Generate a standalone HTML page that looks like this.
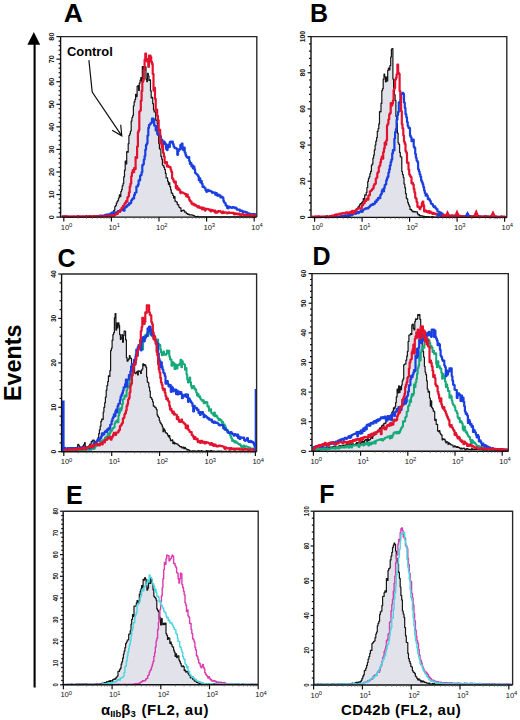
<!DOCTYPE html>
<html><head><meta charset="utf-8"><style>
html,body{margin:0;padding:0;background:#fff;width:520px;height:720px;overflow:hidden}
svg{display:block;font-family:"Liberation Sans", sans-serif}
.yl,.xl{fill:#111}
</style></head><body>
<svg width="520" height="720" viewBox="0 0 520 720">
<rect width="520" height="720" fill="#fff"/>
<path d="M62.0 216.8H62.7V216.8H63.5V216.8H64.2V216.8H65.0V216.8H65.7V216.8H66.5V216.8H67.2V216.8H67.9V216.8H68.7V216.8H69.4V216.8H70.2V216.8H70.9V216.8H71.7V216.8H72.4V216.8H73.2V216.8H73.9V216.8H74.6V216.8H75.4V216.8H76.1V216.8H76.9V216.8H77.6V216.8H78.4V216.8H79.1V216.8H79.8V216.8H80.6V216.8H81.3V216.8H82.1V216.8H82.8V216.8H83.6V216.8H84.3V216.8H85.1V216.8H85.8V216.8H86.5V216.8H87.3V216.8H88.0V216.8H88.8V216.8H89.5V216.8H90.3V216.8H91.0V216.8H91.7V216.8H92.5V216.8H93.2V216.8H94.0V216.8H94.7V216.8H95.5V216.8H96.2V216.8H97.0V216.8H97.7V216.8H98.4V216.8H99.2V216.8H99.9V216.8H100.7V216.8H101.4V216.8H102.2V216.8H102.9V216.6H103.6V216.5H104.4V216.7H105.1V216.4H105.9V216.6H106.6V216.3H107.4V215.7H108.1V215.6H108.9V215.5H109.6V214.9H110.3V214.8H111.1V214.7H111.8V214.1H112.6V213.2H113.3V210.9H114.1V210.1H114.8V206.5H115.5V205.6H116.3V203.2H117.0V201.6H117.8V200.3H118.5V198.0H119.3V194.9H120.0V196.6H120.8V191.6H121.5V189.7H122.2V185.9H123.0V183.6H123.7V176.8H124.5V170.2H125.2V161.0H126.0V164.0H126.7V151.7H127.4V152.2H128.2V143.7H128.9V135.5H129.7V133.8H130.4V131.0H131.2V121.1H131.9V117.5H132.7V115.5H133.4V105.8H134.1V101.9H134.9V99.4H135.6V94.3H136.4V96.6H137.1V86.4H137.9V85.5H138.6V90.4H139.3V83.0H140.1V80.1H140.8V77.7H141.6V81.4H142.3V66.5H143.1V68.9H143.8V66.5H144.6V69.6H145.3V66.9H146.0V79.1H146.8V81.6H147.5V73.4H148.3V76.0H149.0V80.5H149.8V79.8H150.5V90.9H151.2V98.0H152.0V97.4H152.7V103.7H153.5V109.9H154.2V111.9H155.0V111.9H155.7V120.1H156.5V120.5H157.2V123.6H157.9V133.4H158.7V143.3H159.4V148.8H160.2V149.2H160.9V156.4H161.7V159.2H162.4V165.0H163.1V165.7H163.9V167.4H164.6V169.5H165.4V173.4H166.1V177.8H166.9V177.9H167.6V181.3H168.4V184.3H169.1V182.8H169.8V186.7H170.6V189.8H171.3V192.9H172.1V193.4H172.8V195.5H173.6V198.1H174.3V196.5H175.0V201.2H175.8V201.6H176.5V202.2H177.3V204.7H178.0V204.7H178.8V207.0H179.5V207.7H180.3V207.9H181.0V211.3H181.7V210.6H182.5V210.3H183.2V210.1H184.0V210.9H184.7V212.2H185.5V212.0H186.2V213.3H186.9V213.7H187.7V214.4H188.4V214.2H189.2V214.9H189.9V214.9H190.7V214.9H191.4V214.9H192.2V215.2H192.9V215.3H193.6V215.6H194.4V216.2H195.1V216.6H195.9V216.6H196.6V216.6H197.4V216.3H198.1V216.8H198.8V216.8H199.6V216.8H200.3V216.8H201.1V216.8H201.8V216.8H202.6V216.8H203.3V216.8H204.1V216.8H204.8V216.8H205.5V216.8H206.3V216.8H207.0V216.8H207.8V216.8H208.5V216.8H209.3V216.8H210.0V216.8H210.7V216.8H211.5V216.8H212.2V216.8H213.0V216.8H213.7V216.8H214.5V216.8H215.2V216.8H216.0V216.8H216.7V216.8H217.4V216.8H218.2V216.8H218.9V216.8H219.7V216.8H220.4V216.8H221.2V216.8H221.9V216.8H222.6V216.8H223.4V216.8H224.1V216.8H224.9V216.8H225.6V216.8H226.4V216.8H227.1V216.8H227.9V216.8H228.6V216.8H229.3V216.8H230.1V216.8H230.8V216.8H231.6V216.8H232.3V216.8H233.1V216.8H233.8V216.8H234.5V216.8H235.3V216.8H236.0V216.8H236.8V216.8H237.5V216.8H238.3V216.8H239.0V216.8H239.8V216.8H240.5V216.8H241.2V216.8H242.0V216.8H242.7V216.8H243.5V216.8H244.2V216.8H245.0V216.8H245.7V216.8H246.4V216.8H247.2V216.8H247.9V216.8H248.7V216.8H249.4V216.8H250.2V216.8H250.9V216.8H251.7V216.8H252.4V216.8H253.1V216.8H253.9V216.8H254.6V216.8H255.4V216.8H256.1V217.1H62.0Z" fill="#e2e2eb" stroke="none"/>
<path d="M62.0 216.8H62.7V216.8H63.5V216.8H64.2V216.8H65.0V216.8H65.7V216.8H66.5V216.8H67.2V216.8H67.9V216.8H68.7V216.8H69.4V216.8H70.2V216.8H70.9V216.8H71.7V216.8H72.4V216.8H73.2V216.8H73.9V216.8H74.6V216.8H75.4V216.8H76.1V216.8H76.9V216.8H77.6V216.8H78.4V216.8H79.1V216.8H79.8V216.8H80.6V216.8H81.3V216.8H82.1V216.8H82.8V216.8H83.6V216.8H84.3V216.8H85.1V216.8H85.8V216.8H86.5V216.8H87.3V216.8H88.0V216.8H88.8V216.8H89.5V216.8H90.3V216.8H91.0V216.8H91.7V216.8H92.5V216.8H93.2V216.8H94.0V216.8H94.7V216.8H95.5V216.8H96.2V216.8H97.0V216.8H97.7V216.8H98.4V216.8H99.2V216.8H99.9V216.8H100.7V216.8H101.4V216.8H102.2V216.8H102.9V216.6H103.6V216.5H104.4V216.7H105.1V216.4H105.9V216.6H106.6V216.3H107.4V215.7H108.1V215.6H108.9V215.5H109.6V214.9H110.3V214.8H111.1V214.7H111.8V214.1H112.6V213.2H113.3V210.9H114.1V210.1H114.8V206.5H115.5V205.6H116.3V203.2H117.0V201.6H117.8V200.3H118.5V198.0H119.3V194.9H120.0V196.6H120.8V191.6H121.5V189.7H122.2V185.9H123.0V183.6H123.7V176.8H124.5V170.2H125.2V161.0H126.0V164.0H126.7V151.7H127.4V152.2H128.2V143.7H128.9V135.5H129.7V133.8H130.4V131.0H131.2V121.1H131.9V117.5H132.7V115.5H133.4V105.8H134.1V101.9H134.9V99.4H135.6V94.3H136.4V96.6H137.1V86.4H137.9V85.5H138.6V90.4H139.3V83.0H140.1V80.1H140.8V77.7H141.6V81.4H142.3V66.5H143.1V68.9H143.8V66.5H144.6V69.6H145.3V66.9H146.0V79.1H146.8V81.6H147.5V73.4H148.3V76.0H149.0V80.5H149.8V79.8H150.5V90.9H151.2V98.0H152.0V97.4H152.7V103.7H153.5V109.9H154.2V111.9H155.0V111.9H155.7V120.1H156.5V120.5H157.2V123.6H157.9V133.4H158.7V143.3H159.4V148.8H160.2V149.2H160.9V156.4H161.7V159.2H162.4V165.0H163.1V165.7H163.9V167.4H164.6V169.5H165.4V173.4H166.1V177.8H166.9V177.9H167.6V181.3H168.4V184.3H169.1V182.8H169.8V186.7H170.6V189.8H171.3V192.9H172.1V193.4H172.8V195.5H173.6V198.1H174.3V196.5H175.0V201.2H175.8V201.6H176.5V202.2H177.3V204.7H178.0V204.7H178.8V207.0H179.5V207.7H180.3V207.9H181.0V211.3H181.7V210.6H182.5V210.3H183.2V210.1H184.0V210.9H184.7V212.2H185.5V212.0H186.2V213.3H186.9V213.7H187.7V214.4H188.4V214.2H189.2V214.9H189.9V214.9H190.7V214.9H191.4V214.9H192.2V215.2H192.9V215.3H193.6V215.6H194.4V216.2H195.1V216.6H195.9V216.6H196.6V216.6H197.4V216.3H198.1V216.8H198.8V216.8H199.6V216.8H200.3V216.8H201.1V216.8H201.8V216.8H202.6V216.8H203.3V216.8H204.1V216.8H204.8V216.8H205.5V216.8H206.3V216.8H207.0V216.8H207.8V216.8H208.5V216.8H209.3V216.8H210.0V216.8H210.7V216.8H211.5V216.8H212.2V216.8H213.0V216.8H213.7V216.8H214.5V216.8H215.2V216.8H216.0V216.8H216.7V216.8H217.4V216.8H218.2V216.8H218.9V216.8H219.7V216.8H220.4V216.8H221.2V216.8H221.9V216.8H222.6V216.8H223.4V216.8H224.1V216.8H224.9V216.8H225.6V216.8H226.4V216.8H227.1V216.8H227.9V216.8H228.6V216.8H229.3V216.8H230.1V216.8H230.8V216.8H231.6V216.8H232.3V216.8H233.1V216.8H233.8V216.8H234.5V216.8H235.3V216.8H236.0V216.8H236.8V216.8H237.5V216.8H238.3V216.8H239.0V216.8H239.8V216.8H240.5V216.8H241.2V216.8H242.0V216.8H242.7V216.8H243.5V216.8H244.2V216.8H245.0V216.8H245.7V216.8H246.4V216.8H247.2V216.8H247.9V216.8H248.7V216.8H249.4V216.8H250.2V216.8H250.9V216.8H251.7V216.8H252.4V216.8H253.1V216.8H253.9V216.8H254.6V216.8H255.4V216.8H256.1" fill="none" stroke="#161616" stroke-width="1.2" stroke-linejoin="round"/>
<path d="M62.0 216.8H62.7V216.6H63.5V216.8H64.2V216.8H65.0V216.8H65.7V216.8H66.5V216.8H67.2V216.8H67.9V216.8H68.7V216.8H69.4V216.8H70.2V216.8H70.9V216.8H71.7V216.8H72.4V216.8H73.2V216.8H73.9V216.8H74.6V216.8H75.4V216.8H76.1V216.8H76.9V216.8H77.6V216.8H78.4V216.8H79.1V216.8H79.8V216.7H80.6V216.8H81.3V216.8H82.1V216.6H82.8V216.6H83.6V216.8H84.3V216.8H85.1V216.8H85.8V216.6H86.5V216.7H87.3V216.8H88.0V216.6H88.8V216.8H89.5V216.8H90.3V216.7H91.0V216.8H91.7V216.8H92.5V216.6H93.2V216.7H94.0V216.8H94.7V216.8H95.5V216.7H96.2V216.6H97.0V216.4H97.7V216.1H98.4V216.0H99.2V216.4H99.9V215.6H100.7V215.6H101.4V216.2H102.2V215.8H102.9V215.5H103.6V215.6H104.4V215.4H105.1V214.9H105.9V215.5H106.6V214.6H107.4V214.8H108.1V214.4H108.9V214.5H109.6V214.1H110.3V213.6H111.1V213.1H111.8V212.5H112.6V213.0H113.3V214.2H114.1V212.4H114.8V212.6H115.5V212.5H116.3V212.3H117.0V212.7H117.8V211.2H118.5V211.0H119.3V211.7H120.0V210.4H120.8V210.4H121.5V209.7H122.2V209.9H123.0V208.5H123.7V210.7H124.5V207.9H125.2V207.1H126.0V207.1H126.7V205.9H127.4V205.2H128.2V205.2H128.9V203.3H129.7V203.7H130.4V202.9H131.2V200.6H131.9V199.4H132.7V198.4H133.4V198.5H134.1V195.1H134.9V192.8H135.6V192.5H136.4V186.6H137.1V186.3H137.9V184.7H138.6V180.4H139.3V180.4H140.1V175.8H140.8V174.9H141.6V172.3H142.3V165.2H143.1V164.3H143.8V159.5H144.6V156.0H145.3V149.8H146.0V144.9H146.8V143.4H147.5V135.6H148.3V127.9H149.0V124.8H149.8V124.5H150.5V123.0H151.2V122.7H152.0V118.5H152.7V118.5H153.5V119.7H154.2V125.6H155.0V125.6H155.7V130.5H156.5V126.1H157.2V134.0H157.9V135.0H158.7V134.3H159.4V135.1H160.2V136.2H160.9V142.2H161.7V139.9H162.4V145.9H163.1V144.1H163.9V141.5H164.6V143.2H165.4V144.1H166.1V149.0H166.9V150.1H167.6V145.3H168.4V144.5H169.1V147.1H169.8V141.9H170.6V141.5H171.3V142.5H172.1V141.5H172.8V144.0H173.6V146.4H174.3V147.7H175.0V148.2H175.8V148.1H176.5V149.1H177.3V154.8H178.0V151.3H178.8V149.4H179.5V149.5H180.3V145.2H181.0V145.6H181.7V143.5H182.5V149.2H183.2V150.2H184.0V147.7H184.7V152.6H185.5V154.9H186.2V156.5H186.9V157.4H187.7V157.8H188.4V157.1H189.2V161.0H189.9V164.0H190.7V163.2H191.4V166.5H192.2V165.3H192.9V168.4H193.6V166.7H194.4V169.4H195.1V173.0H195.9V173.6H196.6V174.5H197.4V175.0H198.1V176.4H198.8V180.2H199.6V178.4H200.3V182.3H201.1V181.0H201.8V183.8H202.6V186.9H203.3V186.6H204.1V187.5H204.8V188.2H205.5V190.3H206.3V191.8H207.0V190.0H207.8V189.8H208.5V191.1H209.3V190.8H210.0V190.9H210.7V191.2H211.5V191.9H212.2V192.9H213.0V192.3H213.7V192.5H214.5V192.5H215.2V194.7H216.0V193.0H216.7V195.2H217.4V195.8H218.2V194.7H218.9V195.4H219.7V195.4H220.4V197.5H221.2V196.5H221.9V196.9H222.6V197.9H223.4V201.0H224.1V202.6H224.9V203.0H225.6V205.4H226.4V205.5H227.1V208.0H227.9V208.3H228.6V206.7H229.3V206.8H230.1V207.4H230.8V207.5H231.6V208.0H232.3V207.0H233.1V207.1H233.8V207.6H234.5V208.1H235.3V207.5H236.0V208.3H236.8V209.7H237.5V209.6H238.3V209.7H239.0V209.6H239.8V210.9H240.5V210.5H241.2V210.7H242.0V211.1H242.7V212.6H243.5V211.5H244.2V211.7H245.0V211.8H245.7V212.7H246.4V212.3H247.2V213.0H247.9V213.6H248.7V213.3H249.4V214.1H250.2V214.2H250.9V214.2H251.7V214.7H252.4V214.2H253.1V214.8H253.9V214.1H254.6V215.3H255.4V214.4H256.1" fill="none" stroke="#1a3fe0" stroke-width="2.2" stroke-linejoin="round"/>
<path d="M62.0 216.7H62.7V216.4H63.5V216.6H64.2V216.6H65.0V216.2H65.7V216.6H66.5V216.4H67.2V216.4H67.9V216.6H68.7V216.7H69.4V216.5H70.2V216.8H70.9V216.5H71.7V216.5H72.4V216.7H73.2V216.4H73.9V216.5H74.6V216.7H75.4V216.5H76.1V216.8H76.9V216.4H77.6V216.1H78.4V216.4H79.1V216.8H79.8V216.6H80.6V216.5H81.3V216.7H82.1V216.3H82.8V216.7H83.6V216.6H84.3V216.8H85.1V216.4H85.8V216.0H86.5V216.5H87.3V216.6H88.0V216.3H88.8V216.6H89.5V216.1H90.3V216.6H91.0V216.3H91.7V216.6H92.5V216.6H93.2V216.1H94.0V216.5H94.7V216.0H95.5V216.4H96.2V216.2H97.0V216.4H97.7V216.5H98.4V216.5H99.2V216.5H99.9V216.2H100.7V216.3H101.4V216.6H102.2V216.4H102.9V216.5H103.6V216.3H104.4V215.9H105.1V216.2H105.9V216.3H106.6V216.8H107.4V216.1H108.1V216.0H108.9V215.6H109.6V216.4H110.3V215.8H111.1V215.6H111.8V215.2H112.6V216.0H113.3V215.9H114.1V215.3H114.8V215.1H115.5V214.2H116.3V213.8H117.0V213.8H117.8V212.2H118.5V212.0H119.3V212.0H120.0V210.3H120.8V210.1H121.5V208.1H122.2V207.5H123.0V205.8H123.7V205.7H124.5V203.6H125.2V202.9H126.0V201.0H126.7V201.6H127.4V197.3H128.2V196.5H128.9V192.4H129.7V186.7H130.4V183.8H131.2V176.3H131.9V172.7H132.7V170.2H133.4V172.2H134.1V168.1H134.9V169.2H135.6V157.1H136.4V158.0H137.1V146.5H137.9V132.2H138.6V130.3H139.3V111.6H140.1V110.6H140.8V100.7H141.6V91.1H142.3V81.9H143.1V80.0H143.8V70.2H144.6V59.6H145.3V53.5H146.0V60.6H146.8V59.0H147.5V61.9H148.3V66.8H149.0V55.5H149.8V55.5H150.5V57.0H151.2V61.9H152.0V63.9H152.7V73.9H153.5V90.6H154.2V87.8H155.0V98.9H155.7V109.8H156.5V109.6H157.2V115.9H157.9V120.4H158.7V130.8H159.4V129.8H160.2V143.3H160.9V141.5H161.7V147.7H162.4V145.7H163.1V153.0H163.9V156.4H164.6V163.1H165.4V163.0H166.1V162.2H166.9V166.4H167.6V165.5H168.4V166.9H169.1V167.0H169.8V167.2H170.6V169.6H171.3V171.9H172.1V178.2H172.8V179.4H173.6V181.5H174.3V182.6H175.0V181.5H175.8V188.1H176.5V186.1H177.3V189.6H178.0V188.4H178.8V189.3H179.5V190.4H180.3V193.1H181.0V192.5H181.7V192.4H182.5V192.5H183.2V193.2H184.0V193.3H184.7V194.1H185.5V194.2H186.2V196.4H186.9V194.5H187.7V196.9H188.4V197.4H189.2V199.8H189.9V201.2H190.7V201.3H191.4V203.6H192.2V204.3H192.9V203.5H193.6V204.1H194.4V205.5H195.1V204.8H195.9V205.8H196.6V206.0H197.4V207.3H198.1V206.2H198.8V207.4H199.6V208.0H200.3V207.3H201.1V208.2H201.8V209.3H202.6V207.5H203.3V209.1H204.1V208.3H204.8V210.6H205.5V209.4H206.3V208.8H207.0V209.0H207.8V209.1H208.5V209.3H209.3V210.3H210.0V209.7H210.7V211.3H211.5V210.2H212.2V210.2H213.0V210.4H213.7V211.3H214.5V210.7H215.2V212.7H216.0V211.7H216.7V212.7H217.4V211.9H218.2V211.1H218.9V211.5H219.7V211.2H220.4V211.8H221.2V212.6H221.9V213.2H222.6V211.6H223.4V212.9H224.1V212.6H224.9V212.3H225.6V212.6H226.4V212.7H227.1V213.5H227.9V213.0H228.6V212.3H229.3V212.5H230.1V213.0H230.8V212.8H231.6V212.9H232.3V212.9H233.1V212.9H233.8V214.2H234.5V214.3H235.3V213.4H236.0V213.9H236.8V213.7H237.5V214.4H238.3V213.8H239.0V213.7H239.8V214.8H240.5V215.0H241.2V214.6H242.0V214.1H242.7V214.4H243.5V215.3H244.2V215.2H245.0V215.3H245.7V215.1H246.4V214.5H247.2V215.7H247.9V215.4H248.7V214.8H249.4V215.0H250.2V215.5H250.9V215.0H251.7V215.3H252.4V215.2H253.1V216.5H253.9V216.0H254.6V215.7H255.4V216.0H256.1" fill="none" stroke="#e3122f" stroke-width="2.2" stroke-linejoin="round"/>
<path d="M312.0 217.1H312.7V217.1H313.5V217.1H314.2V217.1H315.0V217.0H315.7V217.1H316.5V217.1H317.2V217.1H317.9V217.1H318.7V217.1H319.4V217.1H320.2V217.1H320.9V217.1H321.6V217.1H322.4V217.1H323.1V217.1H323.9V217.1H324.6V217.1H325.4V217.0H326.1V216.7H326.8V217.1H327.6V217.1H328.3V216.9H329.1V216.9H329.8V216.9H330.6V216.9H331.3V217.1H332.0V216.8H332.8V216.9H333.5V217.1H334.3V216.9H335.0V217.0H335.8V217.1H336.5V217.1H337.2V217.1H338.0V217.1H338.7V217.1H339.5V217.0H340.2V216.6H340.9V216.7H341.7V216.9H342.4V216.7H343.2V216.3H343.9V216.7H344.7V216.1H345.4V216.7H346.1V215.9H346.9V216.6H347.6V216.6H348.4V216.2H349.1V215.7H349.9V215.8H350.6V214.4H351.3V213.5H352.1V212.4H352.8V211.8H353.6V211.1H354.3V210.6H355.0V212.1H355.8V209.4H356.5V208.9H357.3V208.3H358.0V206.9H358.8V206.3H359.5V204.8H360.2V203.7H361.0V203.8H361.7V202.4H362.5V201.7H363.2V198.7H364.0V200.0H364.7V194.9H365.4V195.2H366.2V192.5H366.9V187.5H367.7V181.5H368.4V178.7H369.1V176.8H369.9V173.7H370.6V171.4H371.4V165.2H372.1V164.0H372.9V158.2H373.6V155.2H374.3V149.9H375.1V145.0H375.8V141.2H376.6V137.6H377.3V131.3H378.1V128.6H378.8V123.9H379.5V111.6H380.3V111.8H381.0V103.4H381.8V90.6H382.5V88.7H383.2V79.2H384.0V74.2H384.7V76.8H385.5V81.8H386.2V77.2H387.0V80.9H387.7V70.3H388.4V68.1H389.2V69.9H389.9V65.7H390.7V57.0H391.4V49.0H392.2V48.5H392.9V79.0H393.6V88.1H394.4V94.7H395.1V100.4H395.9V116.5H396.6V123.4H397.4V133.2H398.1V142.8H398.8V144.3H399.6V152.4H400.3V156.8H401.1V156.9H401.8V171.5H402.5V174.6H403.3V177.5H404.0V184.0H404.8V187.7H405.5V193.6H406.3V198.2H407.0V198.9H407.7V202.7H408.5V204.7H409.2V206.3H410.0V209.6H410.7V209.3H411.5V210.6H412.2V211.2H412.9V211.9H413.7V211.4H414.4V212.0H415.2V211.7H415.9V211.9H416.6V211.8H417.4V213.6H418.1V214.8H418.9V214.6H419.6V215.9H420.4V215.5H421.1V215.8H421.8V215.9H422.6V216.2H423.3V216.6H424.1V216.4H424.8V216.5H425.6V216.9H426.3V216.7H427.0V216.8H427.8V216.7H428.5V216.8H429.3V216.9H430.0V217.0H430.8V217.0H431.5V216.7H432.2V216.6H433.0V217.0H433.7V217.0H434.5V217.0H435.2V217.1H435.9V217.1H436.7V217.1H437.4V216.9H438.2V217.1H438.9V217.0H439.7V217.1H440.4V217.1H441.1V217.0H441.9V217.1H442.6V217.1H443.4V217.1H444.1V216.7H444.9V217.1H445.6V217.0H446.3V217.1H447.1V217.1H447.8V217.1H448.6V217.0H449.3V217.1H450.0V216.9H450.8V217.1H451.5V217.0H452.3V217.1H453.0V217.1H453.8V216.8H454.5V216.8H455.2V217.0H456.0V217.1H456.7V217.1H457.5V216.7H458.2V217.1H459.0V217.1H459.7V216.9H460.4V217.1H461.2V217.1H461.9V217.0H462.7V216.9H463.4V217.1H464.1V217.1H464.9V217.0H465.6V217.0H466.4V217.0H467.1V217.1H467.9V217.1H468.6V217.1H469.3V217.1H470.1V217.0H470.8V217.1H471.6V217.0H472.3V217.1H473.1V217.1H473.8V217.0H474.5V217.1H475.3V217.1H476.0V217.1H476.8V216.8H477.5V217.1H478.2V217.1H479.0V217.1H479.7V217.1H480.5V217.1H481.2V217.1H482.0V217.1H482.7V217.1H483.4V217.0H484.2V216.9H484.9V217.1H485.7V217.1H486.4V217.1H487.2V217.1H487.9V217.1H488.6V217.1H489.4V217.0H490.1V217.1H490.9V217.1H491.6V217.1H492.4V217.1H493.1V217.1H493.8V217.1H494.6V217.1H495.3V217.1H496.1V217.1H496.8V217.0H497.5V217.1H498.3V217.1H499.0V217.1H499.8V217.1H500.5V217.1H501.3V217.1H502.0V217.1H502.7V217.1H503.5V217.0H504.2V217.1H505.0V217.1H505.7V217.0H506.5V217.4H312.0Z" fill="#e2e2eb" stroke="none"/>
<path d="M312.0 217.1H312.7V217.1H313.5V217.1H314.2V217.1H315.0V217.0H315.7V217.1H316.5V217.1H317.2V217.1H317.9V217.1H318.7V217.1H319.4V217.1H320.2V217.1H320.9V217.1H321.6V217.1H322.4V217.1H323.1V217.1H323.9V217.1H324.6V217.1H325.4V217.0H326.1V216.7H326.8V217.1H327.6V217.1H328.3V216.9H329.1V216.9H329.8V216.9H330.6V216.9H331.3V217.1H332.0V216.8H332.8V216.9H333.5V217.1H334.3V216.9H335.0V217.0H335.8V217.1H336.5V217.1H337.2V217.1H338.0V217.1H338.7V217.1H339.5V217.0H340.2V216.6H340.9V216.7H341.7V216.9H342.4V216.7H343.2V216.3H343.9V216.7H344.7V216.1H345.4V216.7H346.1V215.9H346.9V216.6H347.6V216.6H348.4V216.2H349.1V215.7H349.9V215.8H350.6V214.4H351.3V213.5H352.1V212.4H352.8V211.8H353.6V211.1H354.3V210.6H355.0V212.1H355.8V209.4H356.5V208.9H357.3V208.3H358.0V206.9H358.8V206.3H359.5V204.8H360.2V203.7H361.0V203.8H361.7V202.4H362.5V201.7H363.2V198.7H364.0V200.0H364.7V194.9H365.4V195.2H366.2V192.5H366.9V187.5H367.7V181.5H368.4V178.7H369.1V176.8H369.9V173.7H370.6V171.4H371.4V165.2H372.1V164.0H372.9V158.2H373.6V155.2H374.3V149.9H375.1V145.0H375.8V141.2H376.6V137.6H377.3V131.3H378.1V128.6H378.8V123.9H379.5V111.6H380.3V111.8H381.0V103.4H381.8V90.6H382.5V88.7H383.2V79.2H384.0V74.2H384.7V76.8H385.5V81.8H386.2V77.2H387.0V80.9H387.7V70.3H388.4V68.1H389.2V69.9H389.9V65.7H390.7V57.0H391.4V49.0H392.2V48.5H392.9V79.0H393.6V88.1H394.4V94.7H395.1V100.4H395.9V116.5H396.6V123.4H397.4V133.2H398.1V142.8H398.8V144.3H399.6V152.4H400.3V156.8H401.1V156.9H401.8V171.5H402.5V174.6H403.3V177.5H404.0V184.0H404.8V187.7H405.5V193.6H406.3V198.2H407.0V198.9H407.7V202.7H408.5V204.7H409.2V206.3H410.0V209.6H410.7V209.3H411.5V210.6H412.2V211.2H412.9V211.9H413.7V211.4H414.4V212.0H415.2V211.7H415.9V211.9H416.6V211.8H417.4V213.6H418.1V214.8H418.9V214.6H419.6V215.9H420.4V215.5H421.1V215.8H421.8V215.9H422.6V216.2H423.3V216.6H424.1V216.4H424.8V216.5H425.6V216.9H426.3V216.7H427.0V216.8H427.8V216.7H428.5V216.8H429.3V216.9H430.0V217.0H430.8V217.0H431.5V216.7H432.2V216.6H433.0V217.0H433.7V217.0H434.5V217.0H435.2V217.1H435.9V217.1H436.7V217.1H437.4V216.9H438.2V217.1H438.9V217.0H439.7V217.1H440.4V217.1H441.1V217.0H441.9V217.1H442.6V217.1H443.4V217.1H444.1V216.7H444.9V217.1H445.6V217.0H446.3V217.1H447.1V217.1H447.8V217.1H448.6V217.0H449.3V217.1H450.0V216.9H450.8V217.1H451.5V217.0H452.3V217.1H453.0V217.1H453.8V216.8H454.5V216.8H455.2V217.0H456.0V217.1H456.7V217.1H457.5V216.7H458.2V217.1H459.0V217.1H459.7V216.9H460.4V217.1H461.2V217.1H461.9V217.0H462.7V216.9H463.4V217.1H464.1V217.1H464.9V217.0H465.6V217.0H466.4V217.0H467.1V217.1H467.9V217.1H468.6V217.1H469.3V217.1H470.1V217.0H470.8V217.1H471.6V217.0H472.3V217.1H473.1V217.1H473.8V217.0H474.5V217.1H475.3V217.1H476.0V217.1H476.8V216.8H477.5V217.1H478.2V217.1H479.0V217.1H479.7V217.1H480.5V217.1H481.2V217.1H482.0V217.1H482.7V217.1H483.4V217.0H484.2V216.9H484.9V217.1H485.7V217.1H486.4V217.1H487.2V217.1H487.9V217.1H488.6V217.1H489.4V217.0H490.1V217.1H490.9V217.1H491.6V217.1H492.4V217.1H493.1V217.1H493.8V217.1H494.6V217.1H495.3V217.1H496.1V217.1H496.8V217.0H497.5V217.1H498.3V217.1H499.0V217.1H499.8V217.1H500.5V217.1H501.3V217.1H502.0V217.1H502.7V217.1H503.5V217.0H504.2V217.1H505.0V217.1H505.7V217.0H506.5" fill="none" stroke="#161616" stroke-width="1.2" stroke-linejoin="round"/>
<path d="M312.0 217.0H312.7V217.0H313.5V217.1H314.2V217.0H315.0V217.1H315.7V217.0H316.5V217.1H317.2V217.0H317.9V217.1H318.7V217.1H319.4V216.9H320.2V217.1H320.9V217.1H321.6V217.0H322.4V217.0H323.1V216.8H323.9V216.9H324.6V217.1H325.4V216.7H326.1V217.1H326.8V217.1H327.6V217.1H328.3V217.0H329.1V216.9H329.8V216.8H330.6V217.1H331.3V216.8H332.0V216.9H332.8V217.1H333.5V217.1H334.3V216.8H335.0V217.0H335.8V216.7H336.5V216.8H337.2V216.5H338.0V216.9H338.7V216.8H339.5V216.7H340.2V216.3H340.9V216.9H341.7V215.8H342.4V216.4H343.2V216.1H343.9V216.1H344.7V216.2H345.4V215.4H346.1V215.8H346.9V216.1H347.6V215.2H348.4V215.7H349.1V214.9H349.9V214.8H350.6V215.1H351.3V215.3H352.1V214.8H352.8V213.6H353.6V213.3H354.3V213.1H355.0V213.9H355.8V212.9H356.5V212.5H357.3V212.2H358.0V213.1H358.8V212.6H359.5V211.5H360.2V211.5H361.0V210.7H361.7V212.0H362.5V210.4H363.2V209.6H364.0V209.3H364.7V208.9H365.4V208.3H366.2V208.7H366.9V208.0H367.7V208.4H368.4V207.3H369.1V206.8H369.9V205.9H370.6V205.2H371.4V204.6H372.1V205.0H372.9V203.9H373.6V204.2H374.3V203.5H375.1V201.5H375.8V201.9H376.6V199.8H377.3V200.0H378.1V197.9H378.8V198.0H379.5V198.2H380.3V195.1H381.0V194.0H381.8V191.1H382.5V189.4H383.2V191.5H384.0V188.0H384.7V185.1H385.5V184.3H386.2V180.3H387.0V178.0H387.7V176.7H388.4V172.5H389.2V169.4H389.9V165.6H390.7V162.1H391.4V159.6H392.2V153.4H392.9V150.1H393.6V150.4H394.4V138.6H395.1V132.2H395.9V129.1H396.6V119.8H397.4V115.1H398.1V111.9H398.8V102.3H399.6V102.6H400.3V98.9H401.1V93.9H401.8V93.8H402.5V92.8H403.3V94.2H404.0V102.6H404.8V108.0H405.5V114.2H406.3V117.3H407.0V122.1H407.7V126.0H408.5V128.0H409.2V128.2H410.0V135.7H410.7V137.3H411.5V141.2H412.2V139.5H412.9V139.5H413.7V146.7H414.4V147.9H415.2V154.0H415.9V157.8H416.6V160.6H417.4V162.1H418.1V169.3H418.9V171.6H419.6V174.3H420.4V176.8H421.1V180.4H421.8V182.2H422.6V184.2H423.3V187.1H424.1V190.6H424.8V193.1H425.6V195.7H426.3V194.3H427.0V195.8H427.8V199.1H428.5V198.5H429.3V199.9H430.0V201.1H430.8V203.6H431.5V203.8H432.2V204.4H433.0V206.1H433.7V207.1H434.5V206.3H435.2V207.8H435.9V208.7H436.7V209.2H437.4V211.4H438.2V211.5H438.9V211.8H439.7V213.1H440.4V212.7H441.1V214.3H441.9V213.6H442.6V214.3H443.4V215.5H444.1V215.7H444.9V215.7H445.6V216.2H446.3V215.4H447.1V215.4H447.8V215.4H448.6V215.4H449.3V215.5H450.0V216.1H450.8V215.5H451.5V215.9H452.3V215.7H453.0V215.7H453.8V215.7H454.5V216.8H455.2V216.3H456.0V215.7H456.7V216.0H457.5V217.0H458.2V216.0H459.0V216.7H459.7V216.4H460.4V216.4H461.2V216.2H461.9V216.8H462.7V216.5H463.4V216.3H464.1V216.5H464.9V216.5H465.6V216.7H466.4V216.2H467.1V216.6H467.9V217.0H468.6V216.4H469.3V216.7H470.1V216.6H470.8V216.4H471.6V216.4H472.3V217.1H473.1V216.5H473.8V216.3H474.5V216.6H475.3V216.9H476.0V216.8H476.8V216.8H477.5V216.8H478.2V216.5H479.0V216.6H479.7V216.4H480.5V216.7H481.2V216.7H482.0V216.8H482.7V216.9H483.4V216.7H484.2V216.8H484.9V216.8H485.7V216.6H486.4V217.0H487.2V216.8H487.9V216.7H488.6V216.9H489.4V217.0H490.1V216.7H490.9V217.1H491.6V217.0H492.4V216.7H493.1V217.0H493.8V216.5H494.6V216.9H495.3V217.1H496.1V216.5H496.8V217.0H497.5V217.1H498.3V216.8H499.0V216.9H499.8V217.1H500.5V216.9H501.3V217.0H502.0V217.0H502.7V217.0H503.5V217.0H504.2V216.9H505.0V217.0H505.7V217.1H506.5" fill="none" stroke="#1a3fe0" stroke-width="2.2" stroke-linejoin="round"/>
<path d="M312.0 216.6H312.7V217.1H313.5V216.8H314.2V216.7H315.0V216.4H315.7V217.0H316.5V217.0H317.2V216.4H317.9V216.9H318.7V216.3H319.4V216.8H320.2V216.9H320.9V216.5H321.6V216.6H322.4V216.5H323.1V216.6H323.9V216.7H324.6V216.8H325.4V217.1H326.1V216.5H326.8V216.2H327.6V216.5H328.3V216.5H329.1V216.7H329.8V216.0H330.6V216.4H331.3V216.4H332.0V215.6H332.8V215.7H333.5V215.6H334.3V215.0H335.0V214.7H335.8V215.4H336.5V214.4H337.2V214.3H338.0V214.6H338.7V214.1H339.5V213.5H340.2V214.4H340.9V213.6H341.7V213.3H342.4V213.0H343.2V213.6H343.9V213.4H344.7V213.7H345.4V212.5H346.1V212.4H346.9V212.3H347.6V213.3H348.4V213.0H349.1V212.3H349.9V212.9H350.6V211.8H351.3V213.5H352.1V210.8H352.8V211.1H353.6V212.9H354.3V210.9H355.0V211.2H355.8V210.7H356.5V209.3H357.3V208.9H358.0V208.3H358.8V208.0H359.5V208.5H360.2V208.7H361.0V208.4H361.7V205.7H362.5V204.9H363.2V203.6H364.0V203.2H364.7V200.4H365.4V201.0H366.2V200.0H366.9V198.5H367.7V199.7H368.4V195.5H369.1V195.2H369.9V191.3H370.6V190.9H371.4V190.2H372.1V189.1H372.9V188.4H373.6V185.8H374.3V184.2H375.1V183.8H375.8V178.5H376.6V177.6H377.3V173.0H378.1V171.9H378.8V167.0H379.5V165.5H380.3V162.4H381.0V159.0H381.8V156.6H382.5V158.7H383.2V152.0H384.0V148.3H384.7V142.7H385.5V144.7H386.2V140.5H387.0V125.4H387.7V123.8H388.4V119.6H389.2V114.4H389.9V113.2H390.7V103.2H391.4V105.6H392.2V103.8H392.9V100.6H393.6V90.1H394.4V88.1H395.1V79.7H395.9V77.7H396.6V74.3H397.4V64.5H398.1V72.7H398.8V73.9H399.6V91.1H400.3V97.3H401.1V111.2H401.8V124.3H402.5V128.4H403.3V135.5H404.0V141.8H404.8V143.9H405.5V151.0H406.3V152.8H407.0V162.8H407.7V162.7H408.5V169.7H409.2V174.6H410.0V176.1H410.7V177.1H411.5V183.3H412.2V182.8H412.9V184.6H413.7V188.9H414.4V192.3H415.2V197.7H415.9V198.8H416.6V202.1H417.4V206.8H418.1V206.6H418.9V207.4H419.6V209.1H420.4V207.2H421.1V206.5H421.8V203.1H422.6V201.5H423.3V205.3H424.1V211.5H424.8V210.3H425.6V210.5H426.3V211.8H427.0V211.3H427.8V212.5H428.5V211.1H429.3V212.8H430.0V211.7H430.8V212.4H431.5V213.2H432.2V213.8H433.0V212.8H433.7V213.8H434.5V213.5H435.2V213.6H435.9V214.5H436.7V214.5H437.4V214.0H438.2V214.5H438.9V214.3H439.7V215.1H440.4V215.7H441.1V215.9H441.9V215.5H442.6V215.6H443.4V215.2H444.1V215.8H444.9V215.8H445.6V215.8H446.3V216.0H447.1V216.4H447.8V215.5H448.6V217.1H449.3V216.2H450.0V216.2H450.8V216.1H451.5V215.6H452.3V216.0H453.0V216.0H453.8V216.8H454.5V216.3H455.2V216.3H456.0V216.1H456.7V216.3H457.5V216.2H458.2V216.3H459.0V215.7H459.7V215.9H460.4V216.5H461.2V216.5H461.9V216.4H462.7V216.8H463.4V216.1H464.1V216.7H464.9V216.4H465.6V216.7H466.4V216.2H467.1V216.4H467.9V216.0H468.6V216.7H469.3V216.3H470.1V216.2H470.8V216.6H471.6V216.4H472.3V216.3H473.1V216.7H473.8V216.5H474.5V216.8H475.3V216.1H476.0V216.3H476.8V216.7H477.5V216.6H478.2V216.1H479.0V216.8H479.7V217.0H480.5V216.5H481.2V216.5H482.0V216.7H482.7V216.9H483.4V216.5H484.2V216.4H484.9V216.2H485.7V216.8H486.4V216.9H487.2V216.4H487.9V216.9H488.6V217.1H489.4V216.8H490.1V216.3H490.9V216.7H491.6V216.9H492.4V216.9H493.1V217.0H493.8V216.8H494.6V217.1H495.3V216.5H496.1V217.1H496.8V217.1H497.5V216.8H498.3V217.0H499.0V217.0H499.8V217.0H500.5V216.9H501.3V216.4H502.0V217.0H502.7V216.9H503.5V216.6H504.2V217.0H505.0V217.0H505.7V217.1H506.5" fill="none" stroke="#e3122f" stroke-width="2.2" stroke-linejoin="round"/>
<path d="M445.5 216.6L447.5 212.3L449.5 216.6M455 216.6L457 211.8L459 216.6M474 216.6L476.2 211.5L478.4 216.6M491 216.6L493 212.5L495 216.6" fill="none" stroke="#e3122f" stroke-width="2"/>
<path d="M465.5 216.6L467.5 213L469.5 216.6M437 216.6L439 213.5L441 216.6" fill="none" stroke="#1a3fe0" stroke-width="2"/>
<path d="M62.0 451.4H62.7V451.4H63.5V451.4H64.2V451.4H65.0V451.2H65.7V451.4H66.5V451.3H67.2V451.0H68.0V451.0H68.7V451.3H69.5V451.3H70.2V451.1H71.0V451.3H71.7V451.3H72.5V451.1H73.2V451.3H74.0V450.9H74.7V451.1H75.5V451.4H76.2V450.4H77.0V447.2H77.7V444.3H78.5V445.0H79.2V446.3H80.0V450.5H80.7V450.0H81.5V448.3H82.2V446.4H83.0V445.9H83.7V444.7H84.5V442.6H85.2V446.4H86.0V449.8H86.7V449.4H87.4V447.8H88.2V447.1H88.9V445.6H89.7V444.2H90.4V444.0H91.2V441.4H91.9V441.6H92.7V440.2H93.4V440.2H94.2V441.4H94.9V446.0H95.7V443.5H96.4V441.9H97.2V439.5H97.9V437.8H98.7V433.7H99.4V429.8H100.2V426.2H100.9V421.3H101.7V419.0H102.4V419.5H103.2V412.0H103.9V407.3H104.7V402.7H105.4V397.2H106.2V390.2H106.9V385.6H107.7V381.6H108.4V375.9H109.2V376.5H109.9V370.7H110.6V350.6H111.4V348.1H112.1V340.2H112.9V334.6H113.6V332.6H114.4V317.8H115.1V313.5H115.9V330.1H116.6V323.2H117.4V327.9H118.1V322.8H118.9V325.3H119.6V334.6H120.4V339.4H121.1V337.6H121.9V334.5H122.6V342.2H123.4V335.5H124.1V331.2H124.9V331.2H125.6V339.8H126.4V357.7H127.1V361.2H127.9V359.9H128.6V358.9H129.4V355.7H130.1V357.8H130.9V358.7H131.6V365.6H132.4V367.8H133.1V367.9H133.9V366.8H134.6V372.8H135.3V373.6H136.1V372.7H136.8V371.4H137.6V374.9H138.3V370.8H139.1V371.1H139.8V371.4H140.6V373.4H141.3V370.2H142.1V369.0H142.8V363.8H143.6V365.7H144.3V364.6H145.1V365.1H145.8V367.2H146.6V377.0H147.3V382.1H148.1V382.6H148.8V387.1H149.6V391.0H150.3V397.4H151.1V397.8H151.8V399.5H152.6V401.8H153.3V406.1H154.1V406.0H154.8V407.3H155.6V407.8H156.3V409.6H157.1V414.9H157.8V416.4H158.5V417.5H159.3V420.5H160.0V422.6H160.8V423.7H161.5V424.8H162.3V426.9H163.0V431.7H163.8V428.9H164.5V430.4H165.3V432.3H166.0V433.2H166.8V433.4H167.5V435.1H168.3V436.8H169.0V435.7H169.8V438.6H170.5V440.7H171.3V440.3H172.0V439.9H172.8V443.5H173.5V442.1H174.3V444.0H175.0V443.1H175.8V443.5H176.5V443.9H177.3V444.0H178.0V445.1H178.8V445.5H179.5V446.5H180.3V446.9H181.0V446.5H181.8V447.8H182.5V447.8H183.2V447.0H184.0V448.7H184.7V447.6H185.5V448.5H186.2V449.1H187.0V450.1H187.7V449.7H188.5V449.9H189.2V450.5H190.0V451.4H190.7V451.0H191.5V451.1H192.2V450.8H193.0V450.9H193.7V451.4H194.5V450.8H195.2V451.0H196.0V451.4H196.7V451.2H197.5V450.8H198.2V450.7H199.0V451.4H199.7V451.1H200.5V451.4H201.2V450.6H202.0V451.0H202.7V451.0H203.5V451.3H204.2V451.3H205.0V451.0H205.7V451.1H206.4V450.7H207.2V451.3H207.9V450.8H208.7V451.0H209.4V451.2H210.2V450.7H210.9V450.7H211.7V450.9H212.4V451.1H213.2V451.0H213.9V451.0H214.7V451.4H215.4V451.3H216.2V451.4H216.9V451.2H217.7V451.4H218.4V451.2H219.2V451.0H219.9V451.4H220.7V451.2H221.4V451.0H222.2V451.4H222.9V451.4H223.7V451.4H224.4V451.4H225.2V451.3H225.9V451.1H226.7V451.3H227.4V451.4H228.2V451.2H228.9V451.2H229.7V451.3H230.4V451.3H231.1V451.4H231.9V451.4H232.6V451.4H233.4V451.0H234.1V451.4H234.9V451.2H235.6V451.0H236.4V451.4H237.1V451.4H237.9V451.4H238.6V451.4H239.4V451.4H240.1V451.4H240.9V451.4H241.6V451.4H242.4V451.4H243.1V451.2H243.9V451.2H244.6V451.4H245.4V451.2H246.1V451.3H246.9V451.4H247.6V451.4H248.4V451.1H249.1V451.4H249.9V451.4H250.6V451.4H251.4V451.3H252.1V451.4H252.9V451.4H253.6V451.4H254.3V451.4H255.1V451.4H255.8V451.4H256.6V451.7H62.0Z" fill="#e2e2eb" stroke="none"/>
<path d="M62.0 451.4H62.7V451.4H63.5V451.4H64.2V451.4H65.0V451.2H65.7V451.4H66.5V451.3H67.2V451.0H68.0V451.0H68.7V451.3H69.5V451.3H70.2V451.1H71.0V451.3H71.7V451.3H72.5V451.1H73.2V451.3H74.0V450.9H74.7V451.1H75.5V451.4H76.2V450.4H77.0V447.2H77.7V444.3H78.5V445.0H79.2V446.3H80.0V450.5H80.7V450.0H81.5V448.3H82.2V446.4H83.0V445.9H83.7V444.7H84.5V442.6H85.2V446.4H86.0V449.8H86.7V449.4H87.4V447.8H88.2V447.1H88.9V445.6H89.7V444.2H90.4V444.0H91.2V441.4H91.9V441.6H92.7V440.2H93.4V440.2H94.2V441.4H94.9V446.0H95.7V443.5H96.4V441.9H97.2V439.5H97.9V437.8H98.7V433.7H99.4V429.8H100.2V426.2H100.9V421.3H101.7V419.0H102.4V419.5H103.2V412.0H103.9V407.3H104.7V402.7H105.4V397.2H106.2V390.2H106.9V385.6H107.7V381.6H108.4V375.9H109.2V376.5H109.9V370.7H110.6V350.6H111.4V348.1H112.1V340.2H112.9V334.6H113.6V332.6H114.4V317.8H115.1V313.5H115.9V330.1H116.6V323.2H117.4V327.9H118.1V322.8H118.9V325.3H119.6V334.6H120.4V339.4H121.1V337.6H121.9V334.5H122.6V342.2H123.4V335.5H124.1V331.2H124.9V331.2H125.6V339.8H126.4V357.7H127.1V361.2H127.9V359.9H128.6V358.9H129.4V355.7H130.1V357.8H130.9V358.7H131.6V365.6H132.4V367.8H133.1V367.9H133.9V366.8H134.6V372.8H135.3V373.6H136.1V372.7H136.8V371.4H137.6V374.9H138.3V370.8H139.1V371.1H139.8V371.4H140.6V373.4H141.3V370.2H142.1V369.0H142.8V363.8H143.6V365.7H144.3V364.6H145.1V365.1H145.8V367.2H146.6V377.0H147.3V382.1H148.1V382.6H148.8V387.1H149.6V391.0H150.3V397.4H151.1V397.8H151.8V399.5H152.6V401.8H153.3V406.1H154.1V406.0H154.8V407.3H155.6V407.8H156.3V409.6H157.1V414.9H157.8V416.4H158.5V417.5H159.3V420.5H160.0V422.6H160.8V423.7H161.5V424.8H162.3V426.9H163.0V431.7H163.8V428.9H164.5V430.4H165.3V432.3H166.0V433.2H166.8V433.4H167.5V435.1H168.3V436.8H169.0V435.7H169.8V438.6H170.5V440.7H171.3V440.3H172.0V439.9H172.8V443.5H173.5V442.1H174.3V444.0H175.0V443.1H175.8V443.5H176.5V443.9H177.3V444.0H178.0V445.1H178.8V445.5H179.5V446.5H180.3V446.9H181.0V446.5H181.8V447.8H182.5V447.8H183.2V447.0H184.0V448.7H184.7V447.6H185.5V448.5H186.2V449.1H187.0V450.1H187.7V449.7H188.5V449.9H189.2V450.5H190.0V451.4H190.7V451.0H191.5V451.1H192.2V450.8H193.0V450.9H193.7V451.4H194.5V450.8H195.2V451.0H196.0V451.4H196.7V451.2H197.5V450.8H198.2V450.7H199.0V451.4H199.7V451.1H200.5V451.4H201.2V450.6H202.0V451.0H202.7V451.0H203.5V451.3H204.2V451.3H205.0V451.0H205.7V451.1H206.4V450.7H207.2V451.3H207.9V450.8H208.7V451.0H209.4V451.2H210.2V450.7H210.9V450.7H211.7V450.9H212.4V451.1H213.2V451.0H213.9V451.0H214.7V451.4H215.4V451.3H216.2V451.4H216.9V451.2H217.7V451.4H218.4V451.2H219.2V451.0H219.9V451.4H220.7V451.2H221.4V451.0H222.2V451.4H222.9V451.4H223.7V451.4H224.4V451.4H225.2V451.3H225.9V451.1H226.7V451.3H227.4V451.4H228.2V451.2H228.9V451.2H229.7V451.3H230.4V451.3H231.1V451.4H231.9V451.4H232.6V451.4H233.4V451.0H234.1V451.4H234.9V451.2H235.6V451.0H236.4V451.4H237.1V451.4H237.9V451.4H238.6V451.4H239.4V451.4H240.1V451.4H240.9V451.4H241.6V451.4H242.4V451.4H243.1V451.2H243.9V451.2H244.6V451.4H245.4V451.2H246.1V451.3H246.9V451.4H247.6V451.4H248.4V451.1H249.1V451.4H249.9V451.4H250.6V451.4H251.4V451.3H252.1V451.4H252.9V451.4H253.6V451.4H254.3V451.4H255.1V451.4H255.8V451.4H256.6" fill="none" stroke="#161616" stroke-width="1.2" stroke-linejoin="round"/>
<path d="M63.0 450.3H63.7V450.9H64.5V450.4H65.2V450.7H66.0V449.9H66.7V449.9H67.5V450.6H68.2V450.2H69.0V450.3H69.7V450.8H70.5V449.8H71.2V450.3H72.0V450.4H72.7V450.1H73.5V449.9H74.2V449.9H75.0V450.3H75.7V449.7H76.5V450.1H77.2V450.1H78.0V449.4H78.7V450.0H79.5V450.0H80.2V449.7H81.0V449.7H81.7V450.3H82.5V449.8H83.2V450.1H84.0V449.4H84.7V450.3H85.5V449.3H86.2V449.3H87.0V449.1H87.7V449.7H88.4V449.8H89.2V449.7H89.9V449.6H90.7V449.8H91.4V448.5H92.2V448.4H92.9V448.1H93.7V448.9H94.4V447.7H95.2V446.4H95.9V445.8H96.7V445.6H97.4V444.6H98.2V445.1H98.9V443.7H99.7V444.4H100.4V442.2H101.2V441.4H101.9V440.4H102.7V440.3H103.4V441.3H104.2V439.5H104.9V437.7H105.7V436.9H106.4V437.0H107.2V435.6H107.9V433.5H108.7V435.4H109.4V433.8H110.2V431.0H110.9V431.5H111.6V430.0H112.4V428.6H113.1V427.8H113.9V427.5H114.6V423.4H115.4V421.4H116.1V422.1H116.9V420.5H117.6V422.2H118.4V415.5H119.1V413.0H119.9V408.3H120.6V410.6H121.4V408.3H122.1V404.1H122.9V399.3H123.6V398.9H124.4V395.5H125.1V395.6H125.9V396.4H126.6V389.9H127.4V387.0H128.1V386.4H128.9V387.4H129.6V379.5H130.4V378.1H131.1V378.5H131.9V375.1H132.6V367.8H133.4V366.6H134.1V359.9H134.9V362.5H135.6V354.5H136.3V354.8H137.1V351.8H137.8V349.3H138.6V345.9H139.3V347.4H140.1V344.3H140.8V345.7H141.6V341.6H142.3V349.5H143.1V339.7H143.8V341.5H144.6V335.5H145.3V335.1H146.1V334.7H146.8V333.3H147.6V336.0H148.3V333.5H149.1V332.9H149.8V333.7H150.6V329.5H151.3V332.5H152.1V336.0H152.8V337.7H153.6V336.6H154.3V339.0H155.1V339.5H155.8V341.8H156.6V342.0H157.3V339.5H158.1V343.6H158.8V345.4H159.5V345.1H160.3V349.5H161.0V352.5H161.8V355.3H162.5V353.1H163.3V351.6H164.0V354.8H164.8V354.3H165.5V354.8H166.3V353.6H167.0V350.5H167.8V353.2H168.5V350.7H169.3V356.5H170.0V359.5H170.8V359.5H171.5V365.7H172.3V361.9H173.0V364.9H173.8V363.3H174.5V368.9H175.3V364.5H176.0V364.7H176.8V368.4H177.5V365.3H178.3V365.2H179.0V364.2H179.8V363.2H180.5V359.8H181.3V367.3H182.0V361.3H182.8V363.7H183.5V364.1H184.2V364.6H185.0V369.8H185.7V367.9H186.5V374.4H187.2V379.4H188.0V382.5H188.7V380.0H189.5V377.5H190.2V382.3H191.0V386.1H191.7V388.3H192.5V386.7H193.2V386.0H194.0V387.5H194.7V389.6H195.5V389.5H196.2V392.4H197.0V395.5H197.7V393.9H198.5V396.8H199.2V396.2H200.0V398.1H200.7V399.6H201.5V399.7H202.2V401.0H203.0V400.2H203.7V403.2H204.5V403.2H205.2V402.0H206.0V402.0H206.7V402.2H207.4V406.4H208.2V406.3H208.9V410.7H209.7V409.8H210.4V409.3H211.2V413.1H211.9V413.3H212.7V414.1H213.4V415.6H214.2V412.5H214.9V416.2H215.7V415.2H216.4V415.9H217.2V417.4H217.9V418.5H218.7V420.3H219.4V418.9H220.2V419.7H220.9V420.4H221.7V422.8H222.4V421.9H223.2V426.8H223.9V424.4H224.7V425.8H225.4V427.8H226.2V430.0H226.9V431.4H227.7V432.0H228.4V432.0H229.2V432.6H229.9V435.0H230.7V437.0H231.4V438.4H232.1V440.9H232.9V440.2H233.6V440.7H234.4V442.5H235.1V441.3H235.9V441.8H236.6V442.7H237.4V443.2H238.1V443.7H238.9V444.5H239.6V444.3H240.4V445.3H241.1V446.9H241.9V446.3H242.6V447.1H243.4V445.5H244.1V447.2H244.9V446.2H245.6V446.2H246.4V446.4H247.1V446.8H247.9V446.9H248.6V447.9H249.4V447.4H250.1V448.7H250.9V448.6H251.6V448.5H252.4V448.8H253.1V448.6H253.9V448.6H254.6V448.3H255.3V448.9H256.1" fill="none" stroke="#16a97a" stroke-width="2.0" stroke-linejoin="round"/>
<path d="M63.0 448.9H63.7V447.9H64.5V447.9H65.2V448.3H66.0V448.8H66.7V449.5H67.5V448.2H68.2V448.3H69.0V448.5H69.7V448.1H70.5V448.0H71.2V448.6H72.0V448.1H72.7V448.8H73.5V448.1H74.2V448.5H75.0V448.1H75.7V448.1H76.5V448.5H77.2V448.7H78.0V448.5H78.7V449.0H79.5V448.5H80.2V447.6H81.0V448.5H81.7V448.3H82.5V447.7H83.2V447.8H84.0V447.6H84.7V448.2H85.5V447.7H86.2V448.3H87.0V447.5H87.7V447.9H88.4V447.8H89.2V448.3H89.9V447.5H90.7V447.1H91.4V447.3H92.2V445.5H92.9V445.1H93.7V443.2H94.4V443.2H95.2V442.4H95.9V441.5H96.7V441.3H97.4V440.2H98.2V439.1H98.9V440.6H99.7V438.3H100.4V438.3H101.2V436.3H101.9V433.4H102.7V434.8H103.4V434.5H104.2V432.7H104.9V431.6H105.7V430.9H106.4V431.9H107.2V429.4H107.9V429.8H108.7V428.0H109.4V428.7H110.2V424.8H110.9V424.4H111.6V421.1H112.4V418.6H113.1V417.2H113.9V414.4H114.6V416.1H115.4V411.3H116.1V409.7H116.9V412.3H117.6V406.1H118.4V403.8H119.1V403.7H119.9V400.0H120.6V396.7H121.4V394.9H122.1V393.2H122.9V390.6H123.6V387.4H124.4V387.4H125.1V384.2H125.9V379.5H126.6V386.4H127.4V379.5H128.1V379.3H128.9V375.0H129.6V375.8H130.4V371.4H131.1V366.4H131.9V364.0H132.6V369.6H133.4V364.3H134.1V359.8H134.9V362.8H135.6V356.5H136.3V349.5H137.1V355.8H137.8V347.2H138.6V345.1H139.3V345.8H140.1V343.2H140.8V350.3H141.6V341.5H142.3V338.4H143.1V337.2H143.8V341.2H144.6V338.9H145.3V337.3H146.1V335.7H146.8V335.8H147.6V328.3H148.3V331.5H149.1V326.5H149.8V326.5H150.6V329.8H151.3V335.3H152.1V330.7H152.8V334.0H153.6V335.9H154.3V337.8H155.1V339.5H155.8V344.1H156.6V342.4H157.3V343.9H158.1V353.5H158.8V358.9H159.5V361.2H160.3V367.5H161.0V362.3H161.8V366.7H162.5V369.5H163.3V372.6H164.0V373.4H164.8V376.1H165.5V383.7H166.3V383.0H167.0V381.0H167.8V383.8H168.5V386.3H169.3V386.7H170.0V385.0H170.8V391.8H171.5V386.8H172.3V387.9H173.0V391.3H173.8V389.5H174.5V389.5H175.3V389.5H176.0V394.1H176.8V390.7H177.5V394.5H178.3V391.5H179.0V393.9H179.8V392.1H180.5V392.0H181.3V394.1H182.0V398.2H182.8V396.8H183.5V395.8H184.2V394.9H185.0V396.3H185.7V394.3H186.5V397.1H187.2V394.5H188.0V401.8H188.7V398.4H189.5V399.7H190.2V401.1H191.0V402.3H191.7V403.3H192.5V406.0H193.2V411.4H194.0V405.8H194.7V407.4H195.5V408.2H196.2V408.2H197.0V410.0H197.7V409.7H198.5V413.0H199.2V412.2H200.0V414.9H200.7V412.0H201.5V413.0H202.2V412.0H203.0V414.2H203.7V417.2H204.5V415.3H205.2V415.9H206.0V416.5H206.7V417.0H207.4V418.5H208.2V418.1H208.9V419.6H209.7V419.3H210.4V420.1H211.2V419.5H211.9V422.0H212.7V421.6H213.4V422.8H214.2V421.6H214.9V422.0H215.7V422.9H216.4V422.7H217.2V423.1H217.9V423.5H218.7V424.9H219.4V425.3H220.2V425.3H220.9V424.8H221.7V425.0H222.4V425.1H223.2V428.3H223.9V427.5H224.7V429.7H225.4V429.4H226.2V430.1H226.9V430.2H227.7V432.4H228.4V432.9H229.2V432.9H229.9V433.1H230.7V432.0H231.4V432.7H232.1V433.8H232.9V434.2H233.6V435.6H234.4V434.1H235.1V434.9H235.9V434.5H236.6V436.1H237.4V434.5H238.1V438.1H238.9V436.6H239.6V439.0H240.4V437.4H241.1V437.6H241.9V437.7H242.6V437.8H243.4V437.6H244.1V440.2H244.9V440.8H245.6V439.9H246.4V439.4H247.1V438.2H247.9V441.0H248.6V441.9H249.4V441.0H250.1V440.8H250.9V442.1H251.6V441.6H252.4V441.9H253.1V442.9H253.9V444.7H254.6V446.2H255.3V447.2H256.1" fill="none" stroke="#1a3fe0" stroke-width="2.2" stroke-linejoin="round"/>
<path d="M63.0 451.3H63.7V450.5H64.5V449.9H65.2V450.5H66.0V449.6H66.7V449.9H67.5V450.6H68.2V450.2H69.0V449.0H69.7V449.5H70.5V449.3H71.2V449.5H72.0V449.7H72.7V449.6H73.5V449.2H74.2V449.5H75.0V449.2H75.7V450.0H76.5V448.9H77.2V449.7H78.0V448.5H78.7V448.8H79.5V448.5H80.2V449.1H81.0V448.8H81.7V449.3H82.5V447.9H83.2V448.3H84.0V447.6H84.7V448.0H85.5V449.2H86.2V448.1H87.0V448.0H87.7V447.0H88.4V447.1H89.2V446.4H89.9V446.5H90.7V447.1H91.4V445.5H92.2V447.4H92.9V445.2H93.7V446.2H94.4V445.0H95.2V444.3H95.9V444.1H96.7V443.8H97.4V445.1H98.2V444.3H98.9V445.4H99.7V443.8H100.4V443.8H101.2V442.7H101.9V444.5H102.7V442.5H103.4V441.6H104.2V442.5H104.9V440.2H105.7V439.7H106.4V439.8H107.2V438.7H107.9V437.4H108.7V438.4H109.4V437.2H110.2V436.8H110.9V439.7H111.6V437.6H112.4V436.6H113.1V434.7H113.9V432.8H114.6V434.7H115.4V434.9H116.1V432.6H116.9V432.6H117.6V432.4H118.4V430.9H119.1V429.9H119.9V426.0H120.6V425.6H121.4V424.2H122.1V423.1H122.9V418.7H123.6V417.8H124.4V414.6H125.1V413.2H125.9V410.6H126.6V406.2H127.4V403.9H128.1V399.5H128.9V397.9H129.6V392.3H130.4V385.8H131.1V383.8H131.9V375.5H132.6V373.0H133.4V364.4H134.1V365.3H134.9V364.4H135.6V359.9H136.3V356.2H137.1V352.3H137.8V349.7H138.6V348.3H139.3V345.9H140.1V339.8H140.8V331.1H141.6V327.0H142.3V317.8H143.1V322.4H143.8V324.0H144.6V321.8H145.3V312.4H146.1V313.0H146.8V305.3H147.6V305.3H148.3V305.3H149.1V312.3H149.8V314.7H150.6V315.4H151.3V322.0H152.1V324.1H152.8V332.4H153.6V339.5H154.3V336.3H155.1V340.7H155.8V343.4H156.6V351.9H157.3V355.3H158.1V364.2H158.8V369.6H159.5V372.6H160.3V377.9H161.0V382.5H161.8V384.8H162.5V388.5H163.3V390.2H164.0V388.9H164.8V392.8H165.5V396.1H166.3V399.2H167.0V398.3H167.8V400.6H168.5V401.5H169.3V405.8H170.0V409.6H170.8V408.9H171.5V411.0H172.3V412.9H173.0V411.5H173.8V414.6H174.5V413.9H175.3V414.5H176.0V414.8H176.8V419.1H177.5V417.0H178.3V419.7H179.0V421.7H179.8V421.8H180.5V420.5H181.3V419.6H182.0V421.9H182.8V422.3H183.5V423.0H184.2V423.7H185.0V424.5H185.7V428.1H186.5V428.5H187.2V425.5H188.0V429.5H188.7V430.1H189.5V431.8H190.2V432.2H191.0V432.0H191.7V435.1H192.5V435.4H193.2V437.1H194.0V438.9H194.7V437.1H195.5V439.2H196.2V439.3H197.0V438.9H197.7V442.1H198.5V441.2H199.2V441.4H200.0V442.8H200.7V440.8H201.5V440.8H202.2V442.6H203.0V442.1H203.7V441.9H204.5V443.4H205.2V443.3H206.0V442.2H206.7V442.7H207.4V442.6H208.2V442.8H208.9V443.1H209.7V444.6H210.4V444.5H211.2V443.2H211.9V444.9H212.7V444.2H213.4V445.9H214.2V444.7H214.9V444.5H215.7V445.5H216.4V446.5H217.2V446.0H217.9V446.5H218.7V445.6H219.4V445.6H220.2V445.8H220.9V446.2H221.7V446.2H222.4V446.5H223.2V446.5H223.9V447.7H224.7V449.0H225.4V447.3H226.2V447.9H226.9V448.1H227.7V448.5H228.4V448.0H229.2V448.8H229.9V449.6H230.7V448.2H231.4V449.1H232.1V448.5H232.9V448.8H233.6V448.6H234.4V449.7H235.1V449.0H235.9V448.5H236.6V448.9H237.4V448.7H238.1V449.2H238.9V448.7H239.6V449.7H240.4V449.4H241.1V449.5H241.9V449.0H242.6V450.0H243.4V449.3H244.1V449.0H244.9V449.2H245.6V449.1H246.4V449.1H247.1V449.5H247.9V450.3H248.6V449.6H249.4V450.5H250.1V449.8H250.9V449.3H251.6V449.5H252.4V449.6H253.1V449.4H253.9V450.1H254.6V450.2H255.3V449.8H256.1" fill="none" stroke="#e3122f" stroke-width="2.2" stroke-linejoin="round"/>
<path d="M62.6 451.5V401.5H63.6V448.4" fill="none" stroke="#1a3fe0" stroke-width="2"/>
<path d="M254.5 447.5H255.7V389V451.5" fill="none" stroke="#1a3fe0" stroke-width="2"/>
<path d="M313.0 450.3H313.7V449.3H314.5V448.8H315.2V448.8H316.0V448.8H316.7V448.6H317.4V448.5H318.2V449.3H318.9V449.9H319.6V448.8H320.4V449.1H321.1V449.0H321.9V448.0H322.6V448.3H323.3V447.9H324.1V448.2H324.8V447.7H325.5V447.6H326.3V447.9H327.0V448.3H327.8V447.7H328.5V448.0H329.2V447.1H330.0V447.0H330.7V447.1H331.4V447.0H332.2V447.4H332.9V446.7H333.7V447.7H334.4V446.5H335.1V447.4H335.9V446.3H336.6V447.3H337.3V446.6H338.1V446.3H338.8V445.8H339.6V445.7H340.3V445.9H341.0V446.5H341.8V445.4H342.5V446.8H343.2V445.3H344.0V445.5H344.7V445.0H345.5V446.3H346.2V444.7H346.9V444.6H347.7V445.3H348.4V446.0H349.1V444.3H349.9V443.9H350.6V443.8H351.4V445.1H352.1V443.8H352.8V443.8H353.6V444.7H354.3V445.3H355.0V444.7H355.8V443.4H356.5V442.5H357.3V444.5H358.0V442.8H358.7V442.9H359.5V442.9H360.2V443.3H360.9V442.8H361.7V440.9H362.4V442.2H363.2V441.6H363.9V442.5H364.6V440.3H365.4V439.7H366.1V439.5H366.8V441.3H367.6V438.5H368.3V440.6H369.1V439.9H369.8V439.5H370.5V437.9H371.3V436.8H372.0V438.3H372.7V435.8H373.5V434.3H374.2V435.0H375.0V432.8H375.7V433.8H376.4V431.4H377.2V431.7H377.9V430.1H378.6V431.7H379.4V428.0H380.1V431.6H380.9V427.4H381.6V425.9H382.3V425.0H383.1V425.9H383.8V423.4H384.5V423.6H385.3V422.9H386.0V420.6H386.8V420.2H387.5V418.8H388.2V419.8H389.0V416.3H389.7V416.6H390.4V415.2H391.2V414.5H391.9V412.2H392.7V411.2H393.4V407.8H394.1V408.9H394.9V406.7H395.6V402.6H396.3V396.9H397.1V389.1H397.8V393.0H398.6V385.9H399.3V392.5H400.0V386.6H400.8V389.7H401.5V385.0H402.2V380.8H403.0V378.9H403.7V364.8H404.5V364.1H405.2V364.1H405.9V360.2H406.7V356.2H407.4V351.3H408.1V341.5H408.9V335.1H409.6V335.0H410.4V333.5H411.1V334.4H411.8V324.9H412.6V324.2H413.3V328.5H414.0V329.9H414.8V321.6H415.5V318.8H416.3V319.4H417.0V318.8H417.7V314.5H418.5V315.5H419.2V314.5H419.9V319.3H420.7V333.9H421.4V334.4H422.2V349.3H422.9V351.4H423.6V357.0H424.4V366.5H425.1V372.0H425.8V374.7H426.6V380.8H427.3V389.0H428.1V392.2H428.8V391.3H429.5V398.0H430.3V406.2H431.0V400.8H431.7V407.6H432.5V408.7H433.2V410.9H434.0V411.7H434.7V420.3H435.4V419.3H436.2V424.4H436.9V424.4H437.6V431.0H438.4V431.7H439.1V430.7H439.9V433.2H440.6V434.3H441.3V435.1H442.1V439.8H442.8V438.9H443.5V439.4H444.3V439.2H445.0V440.9H445.8V442.8H446.5V441.6H447.2V442.0H448.0V444.5H448.7V442.9H449.4V443.6H450.2V444.2H450.9V444.9H451.7V445.0H452.4V445.1H453.1V446.9H453.9V446.8H454.6V445.9H455.3V446.5H456.1V447.5H456.8V446.6H457.6V447.4H458.3V447.0H459.0V447.7H459.8V448.4H460.5V448.9H461.2V448.1H462.0V448.8H462.7V448.5H463.5V448.2H464.2V448.4H464.9V449.9H465.7V449.5H466.4V448.5H467.1V448.6H467.9V449.5H468.6V449.3H469.4V449.4H470.1V449.4H470.8V449.7H471.6V448.7H472.3V449.4H473.0V449.0H473.8V449.3H474.5V449.4H475.3V448.7H476.0V449.5H476.7V449.1H477.5V449.5H478.2V448.8H478.9V448.8H479.7V449.7H480.4V448.9H481.2V449.3H481.9V449.3H482.6V450.2H483.4V449.3H484.1V449.7H484.8V449.6H485.6V449.9H486.3V449.6H487.1V449.8H487.8V449.2H488.5V449.5H489.3V449.6H490.0V449.4H490.7V449.8H491.5V449.2H492.2V449.3H493.0V449.5H493.7V449.9H494.4V449.9H495.2V449.3H495.9V449.2H496.6V449.2H497.4V450.1H498.1V449.4H498.9V450.1H499.6V450.0H500.3V449.3H501.1V449.3H501.8V450.3H502.5V449.8H503.3V449.4H504.0V449.9H504.8V450.4H505.5V450.1H506.2V450.2H507.0V449.9H507.7V450.3H508.4V451.3H313.0Z" fill="#e2e2eb" stroke="none"/>
<path d="M313.0 450.3H313.7V449.3H314.5V448.8H315.2V448.8H316.0V448.8H316.7V448.6H317.4V448.5H318.2V449.3H318.9V449.9H319.6V448.8H320.4V449.1H321.1V449.0H321.9V448.0H322.6V448.3H323.3V447.9H324.1V448.2H324.8V447.7H325.5V447.6H326.3V447.9H327.0V448.3H327.8V447.7H328.5V448.0H329.2V447.1H330.0V447.0H330.7V447.1H331.4V447.0H332.2V447.4H332.9V446.7H333.7V447.7H334.4V446.5H335.1V447.4H335.9V446.3H336.6V447.3H337.3V446.6H338.1V446.3H338.8V445.8H339.6V445.7H340.3V445.9H341.0V446.5H341.8V445.4H342.5V446.8H343.2V445.3H344.0V445.5H344.7V445.0H345.5V446.3H346.2V444.7H346.9V444.6H347.7V445.3H348.4V446.0H349.1V444.3H349.9V443.9H350.6V443.8H351.4V445.1H352.1V443.8H352.8V443.8H353.6V444.7H354.3V445.3H355.0V444.7H355.8V443.4H356.5V442.5H357.3V444.5H358.0V442.8H358.7V442.9H359.5V442.9H360.2V443.3H360.9V442.8H361.7V440.9H362.4V442.2H363.2V441.6H363.9V442.5H364.6V440.3H365.4V439.7H366.1V439.5H366.8V441.3H367.6V438.5H368.3V440.6H369.1V439.9H369.8V439.5H370.5V437.9H371.3V436.8H372.0V438.3H372.7V435.8H373.5V434.3H374.2V435.0H375.0V432.8H375.7V433.8H376.4V431.4H377.2V431.7H377.9V430.1H378.6V431.7H379.4V428.0H380.1V431.6H380.9V427.4H381.6V425.9H382.3V425.0H383.1V425.9H383.8V423.4H384.5V423.6H385.3V422.9H386.0V420.6H386.8V420.2H387.5V418.8H388.2V419.8H389.0V416.3H389.7V416.6H390.4V415.2H391.2V414.5H391.9V412.2H392.7V411.2H393.4V407.8H394.1V408.9H394.9V406.7H395.6V402.6H396.3V396.9H397.1V389.1H397.8V393.0H398.6V385.9H399.3V392.5H400.0V386.6H400.8V389.7H401.5V385.0H402.2V380.8H403.0V378.9H403.7V364.8H404.5V364.1H405.2V364.1H405.9V360.2H406.7V356.2H407.4V351.3H408.1V341.5H408.9V335.1H409.6V335.0H410.4V333.5H411.1V334.4H411.8V324.9H412.6V324.2H413.3V328.5H414.0V329.9H414.8V321.6H415.5V318.8H416.3V319.4H417.0V318.8H417.7V314.5H418.5V315.5H419.2V314.5H419.9V319.3H420.7V333.9H421.4V334.4H422.2V349.3H422.9V351.4H423.6V357.0H424.4V366.5H425.1V372.0H425.8V374.7H426.6V380.8H427.3V389.0H428.1V392.2H428.8V391.3H429.5V398.0H430.3V406.2H431.0V400.8H431.7V407.6H432.5V408.7H433.2V410.9H434.0V411.7H434.7V420.3H435.4V419.3H436.2V424.4H436.9V424.4H437.6V431.0H438.4V431.7H439.1V430.7H439.9V433.2H440.6V434.3H441.3V435.1H442.1V439.8H442.8V438.9H443.5V439.4H444.3V439.2H445.0V440.9H445.8V442.8H446.5V441.6H447.2V442.0H448.0V444.5H448.7V442.9H449.4V443.6H450.2V444.2H450.9V444.9H451.7V445.0H452.4V445.1H453.1V446.9H453.9V446.8H454.6V445.9H455.3V446.5H456.1V447.5H456.8V446.6H457.6V447.4H458.3V447.0H459.0V447.7H459.8V448.4H460.5V448.9H461.2V448.1H462.0V448.8H462.7V448.5H463.5V448.2H464.2V448.4H464.9V449.9H465.7V449.5H466.4V448.5H467.1V448.6H467.9V449.5H468.6V449.3H469.4V449.4H470.1V449.4H470.8V449.7H471.6V448.7H472.3V449.4H473.0V449.0H473.8V449.3H474.5V449.4H475.3V448.7H476.0V449.5H476.7V449.1H477.5V449.5H478.2V448.8H478.9V448.8H479.7V449.7H480.4V448.9H481.2V449.3H481.9V449.3H482.6V450.2H483.4V449.3H484.1V449.7H484.8V449.6H485.6V449.9H486.3V449.6H487.1V449.8H487.8V449.2H488.5V449.5H489.3V449.6H490.0V449.4H490.7V449.8H491.5V449.2H492.2V449.3H493.0V449.5H493.7V449.9H494.4V449.9H495.2V449.3H495.9V449.2H496.6V449.2H497.4V450.1H498.1V449.4H498.9V450.1H499.6V450.0H500.3V449.3H501.1V449.3H501.8V450.3H502.5V449.8H503.3V449.4H504.0V449.9H504.8V450.4H505.5V450.1H506.2V450.2H507.0V449.9H507.7V450.3H508.4" fill="none" stroke="#161616" stroke-width="1.2" stroke-linejoin="round"/>
<path d="M313.0 449.7H313.7V449.1H314.5V449.5H315.2V449.9H316.0V449.0H316.7V449.2H317.4V449.1H318.2V450.3H318.9V448.8H319.6V448.6H320.4V448.5H321.1V449.4H321.9V448.5H322.6V448.6H323.3V449.0H324.1V449.3H324.8V448.2H325.5V449.5H326.3V449.3H327.0V448.4H327.8V448.5H328.5V448.9H329.2V448.9H330.0V448.5H330.7V448.4H331.4V448.3H332.2V448.6H332.9V448.5H333.7V447.4H334.4V447.6H335.1V448.7H335.9V448.5H336.6V447.1H337.3V447.1H338.1V448.4H338.8V448.6H339.6V447.4H340.3V447.6H341.0V447.5H341.8V446.6H342.5V447.4H343.2V447.2H344.0V447.6H344.7V446.4H345.5V447.4H346.2V446.0H346.9V446.0H347.7V446.0H348.4V447.7H349.1V445.8H349.9V445.7H350.6V446.9H351.4V447.4H352.1V445.4H352.8V445.5H353.6V445.2H354.3V445.4H355.0V445.2H355.8V445.2H356.5V445.5H357.3V445.6H358.0V444.6H358.7V447.0H359.5V445.2H360.2V445.1H360.9V444.6H361.7V444.1H362.4V444.5H363.2V445.5H363.9V443.9H364.6V443.5H365.4V444.5H366.1V443.3H366.8V442.8H367.6V443.7H368.3V445.4H369.1V442.8H369.8V444.1H370.5V444.4H371.3V442.5H372.0V443.7H372.7V442.6H373.5V442.7H374.2V441.5H375.0V443.4H375.7V440.7H376.4V440.6H377.2V440.3H377.9V440.0H378.6V439.8H379.4V439.6H380.1V439.3H380.9V440.0H381.6V438.9H382.3V440.6H383.1V439.5H383.8V439.2H384.5V437.9H385.3V437.7H386.0V437.4H386.8V437.2H387.5V436.4H388.2V436.4H389.0V436.4H389.7V438.5H390.4V435.7H391.2V437.9H391.9V436.7H392.7V435.0H393.4V433.3H394.1V432.6H394.9V432.2H395.6V432.2H396.3V433.4H397.1V431.7H397.8V432.1H398.6V433.3H399.3V432.2H400.0V430.4H400.8V428.5H401.5V427.6H402.2V426.4H403.0V421.2H403.7V421.8H404.5V421.0H405.2V417.6H405.9V416.4H406.7V411.7H407.4V411.2H408.1V406.3H408.9V404.9H409.6V400.2H410.4V402.0H411.1V397.1H411.8V394.1H412.6V395.6H413.3V393.6H414.0V384.5H414.8V387.0H415.5V382.5H416.3V379.1H417.0V373.7H417.7V367.9H418.5V365.5H419.2V357.5H419.9V360.4H420.7V352.6H421.4V349.6H422.2V349.1H422.9V346.2H423.6V347.8H424.4V336.1H425.1V336.4H425.8V336.1H426.6V339.2H427.3V338.8H428.1V339.5H428.8V340.3H429.5V343.0H430.3V347.7H431.0V346.0H431.7V347.6H432.5V351.9H433.2V350.7H434.0V353.7H434.7V353.9H435.4V353.3H436.2V364.1H436.9V367.2H437.6V361.3H438.4V366.4H439.1V366.2H439.9V368.5H440.6V368.6H441.3V372.7H442.1V378.7H442.8V374.1H443.5V377.7H444.3V376.0H445.0V381.6H445.8V387.0H446.5V384.6H447.2V387.7H448.0V390.9H448.7V390.9H449.4V397.8H450.2V395.2H450.9V396.4H451.7V400.5H452.4V403.2H453.1V404.9H453.9V405.3H454.6V407.2H455.3V410.6H456.1V411.1H456.8V413.1H457.6V417.2H458.3V418.7H459.0V417.8H459.8V422.3H460.5V421.0H461.2V422.0H462.0V423.6H462.7V429.2H463.5V430.6H464.2V426.5H464.9V430.3H465.7V432.4H466.4V432.3H467.1V434.2H467.9V435.7H468.6V436.7H469.4V437.3H470.1V439.7H470.8V443.4H471.6V440.0H472.3V440.7H473.0V442.7H473.8V442.2H474.5V443.1H475.3V443.9H476.0V444.8H476.7V445.7H477.5V446.2H478.2V445.9H478.9V446.3H479.7V446.8H480.4V448.4H481.2V446.8H481.9V448.5H482.6V448.4H483.4V448.3H484.1V447.8H484.8V448.1H485.6V447.9H486.3V448.5H487.1V449.1H487.8V448.5H488.5V449.0H489.3V449.3H490.0V449.9H490.7V449.2H491.5V449.8H492.2V449.8H493.0V450.4H493.7V449.9H494.4V449.5H495.2V449.8H495.9V449.9H496.6V449.2H497.4V450.0H498.1V450.6H498.9V450.4H499.6V449.3H500.3V450.9H501.1V450.1H501.8V450.4H502.5V449.8H503.3V449.6H504.0V450.0H504.8V449.9H505.5V450.5H506.2V449.8H507.0V450.7H507.7V450.6H508.4" fill="none" stroke="#16a97a" stroke-width="2.0" stroke-linejoin="round"/>
<path d="M313.0 447.1H313.7V448.5H314.5V447.9H315.2V446.6H316.0V446.3H316.7V446.8H317.4V446.4H318.2V445.8H318.9V446.2H319.6V447.0H320.4V446.3H321.1V445.1H321.9V446.8H322.6V445.2H323.3V445.5H324.1V444.5H324.8V443.8H325.5V443.8H326.3V445.9H327.0V443.9H327.8V445.5H328.5V443.3H329.2V443.1H330.0V443.4H330.7V444.0H331.4V442.6H332.2V443.3H332.9V442.0H333.7V442.8H334.4V444.7H335.1V442.6H335.9V441.5H336.6V442.6H337.3V441.9H338.1V440.6H338.8V441.6H339.6V439.9H340.3V440.8H341.0V439.3H341.8V439.0H342.5V438.9H343.2V439.9H344.0V438.5H344.7V437.8H345.5V437.8H346.2V438.9H346.9V438.1H347.7V437.7H348.4V436.3H349.1V436.0H349.9V437.8H350.6V437.1H351.4V435.1H352.1V434.8H352.8V434.5H353.6V434.2H354.3V433.9H355.0V433.7H355.8V433.4H356.5V432.2H357.3V436.3H358.0V432.2H358.7V432.2H359.5V431.5H360.2V433.7H360.9V430.3H361.7V433.2H362.4V430.4H363.2V428.3H363.9V430.9H364.6V428.8H365.4V426.9H366.1V429.3H366.8V424.8H367.6V424.8H368.3V424.3H369.1V426.0H369.8V425.5H370.5V423.1H371.3V423.5H372.0V422.9H372.7V423.7H373.5V421.6H374.2V421.2H375.0V422.0H375.7V422.7H376.4V420.1H377.2V421.2H377.9V419.4H378.6V420.5H379.4V419.8H380.1V418.7H380.9V417.4H381.6V417.4H382.3V418.2H383.1V417.1H383.8V418.2H384.5V416.7H385.3V418.7H386.0V421.0H386.8V418.0H387.5V416.0H388.2V418.0H389.0V419.0H389.7V416.2H390.4V415.9H391.2V420.2H391.9V414.2H392.7V413.6H393.4V413.1H394.1V415.9H394.9V412.4H395.6V411.4H396.3V411.5H397.1V408.9H397.8V408.9H398.6V407.1H399.3V408.5H400.0V407.7H400.8V410.1H401.5V406.2H402.2V404.9H403.0V404.7H403.7V402.3H404.5V398.4H405.2V403.7H405.9V401.9H406.7V396.6H407.4V395.5H408.1V391.5H408.9V385.3H409.6V385.3H410.4V379.3H411.1V375.9H411.8V377.2H412.6V374.8H413.3V372.7H414.0V370.1H414.8V371.1H415.5V355.8H416.3V358.0H417.0V348.9H417.7V356.3H418.5V347.8H419.2V339.6H419.9V339.1H420.7V342.8H421.4V337.3H422.2V340.8H422.9V336.1H423.6V333.9H424.4V338.1H425.1V338.9H425.8V336.6H426.6V333.4H427.3V332.9H428.1V335.5H428.8V331.9H429.5V333.8H430.3V333.4H431.0V336.8H431.7V329.6H432.5V329.6H433.2V329.6H434.0V337.0H434.7V330.6H435.4V337.1H436.2V338.8H436.9V340.7H437.6V345.2H438.4V343.5H439.1V344.4H439.9V349.8H440.6V355.6H441.3V357.1H442.1V359.8H442.8V361.0H443.5V360.5H444.3V365.5H445.0V367.0H445.8V376.2H446.5V370.7H447.2V374.6H448.0V371.9H448.7V371.0H449.4V368.4H450.2V371.2H450.9V368.4H451.7V376.3H452.4V380.7H453.1V384.7H453.9V385.1H454.6V389.7H455.3V389.9H456.1V390.2H456.8V398.0H457.6V394.5H458.3V393.3H459.0V394.0H459.8V395.6H460.5V400.9H461.2V395.6H462.0V401.1H462.7V397.7H463.5V401.8H464.2V406.3H464.9V411.6H465.7V413.9H466.4V413.6H467.1V415.5H467.9V423.0H468.6V419.9H469.4V421.3H470.1V424.7H470.8V424.0H471.6V427.0H472.3V426.2H473.0V431.9H473.8V429.9H474.5V431.4H475.3V432.8H476.0V434.9H476.7V437.5H477.5V435.1H478.2V436.5H478.9V441.4H479.7V440.3H480.4V441.5H481.2V443.3H481.9V445.5H482.6V443.7H483.4V445.5H484.1V446.3H484.8V445.2H485.6V445.6H486.3V447.6H487.1V446.3H487.8V447.8H488.5V447.8H489.3V447.4H490.0V449.2H490.7V448.6H491.5V449.1H492.2V448.2H493.0V448.8H493.7V449.1H494.4V449.0H495.2V449.1H495.9V449.0H496.6V449.6H497.4V449.4H498.1V449.7H498.9V449.2H499.6V450.0H500.3V449.4H501.1V450.2H501.8V450.3H502.5V449.7H503.3V450.1H504.0V449.7H504.8V450.9H505.5V450.6H506.2V449.7H507.0V450.4H507.7V450.1H508.4" fill="none" stroke="#1a3fe0" stroke-width="2.2" stroke-linejoin="round"/>
<path d="M313.0 449.9H313.7V448.8H314.5V448.2H315.2V446.6H316.0V446.2H316.7V446.9H317.4V446.4H318.2V445.6H318.9V445.2H319.6V446.4H320.4V445.2H321.1V445.3H321.9V444.3H322.6V444.1H323.3V445.6H324.1V444.1H324.8V442.8H325.5V444.5H326.3V445.0H327.0V443.8H327.8V445.0H328.5V445.6H329.2V443.1H330.0V442.6H330.7V442.6H331.4V442.6H332.2V443.2H332.9V442.5H333.7V444.0H334.4V444.2H335.1V444.4H335.9V444.3H336.6V443.2H337.3V442.6H338.1V443.3H338.8V442.2H339.6V442.1H340.3V442.1H341.0V442.2H341.8V442.6H342.5V443.4H343.2V442.2H344.0V442.5H344.7V441.9H345.5V441.8H346.2V442.7H346.9V443.3H347.7V441.9H348.4V443.3H349.1V441.3H349.9V441.1H350.6V442.0H351.4V441.0H352.1V441.9H352.8V440.2H353.6V440.3H354.3V440.8H355.0V439.5H355.8V440.3H356.5V439.2H357.3V439.7H358.0V439.6H358.7V438.9H359.5V441.8H360.2V439.6H360.9V438.0H361.7V439.7H362.4V439.5H363.2V437.4H363.9V437.7H364.6V436.9H365.4V437.2H366.1V437.5H366.8V437.1H367.6V437.5H368.3V435.1H369.1V436.6H369.8V437.1H370.5V434.2H371.3V433.9H372.0V433.6H372.7V435.6H373.5V433.5H374.2V432.6H375.0V432.3H375.7V433.7H376.4V432.3H377.2V431.8H377.9V431.3H378.6V430.4H379.4V430.0H380.1V429.9H380.9V434.2H381.6V428.6H382.3V428.2H383.1V427.8H383.8V427.1H384.5V429.2H385.3V429.4H386.0V427.9H386.8V425.5H387.5V425.2H388.2V425.1H389.0V425.9H389.7V423.5H390.4V423.0H391.2V425.1H391.9V423.6H392.7V424.6H393.4V421.6H394.1V419.5H394.9V419.8H395.6V420.6H396.3V420.0H397.1V416.2H397.8V414.4H398.6V411.4H399.3V412.7H400.0V406.8H400.8V408.0H401.5V406.4H402.2V399.8H403.0V398.7H403.7V396.7H404.5V393.7H405.2V387.1H405.9V384.6H406.7V382.2H407.4V377.8H408.1V376.8H408.9V368.5H409.6V362.6H410.4V359.8H411.1V359.1H411.8V352.2H412.6V349.4H413.3V344.7H414.0V353.6H414.8V338.9H415.5V336.3H416.3V332.3H417.0V337.7H417.7V329.5H418.5V336.3H419.2V331.9H419.9V338.6H420.7V326.7H421.4V332.6H422.2V326.4H422.9V329.9H423.6V337.5H424.4V331.4H425.1V341.6H425.8V337.3H426.6V344.5H427.3V340.1H428.1V346.4H428.8V346.7H429.5V362.3H430.3V360.7H431.0V362.9H431.7V366.4H432.5V370.7H433.2V377.0H434.0V375.1H434.7V378.1H435.4V384.4H436.2V386.2H436.9V386.2H437.6V391.8H438.4V394.5H439.1V398.3H439.9V401.5H440.6V398.3H441.3V404.3H442.1V407.0H442.8V408.6H443.5V407.1H444.3V410.2H445.0V411.3H445.8V413.6H446.5V415.4H447.2V417.2H448.0V419.0H448.7V420.1H449.4V425.2H450.2V426.7H450.9V425.1H451.7V427.4H452.4V428.0H453.1V429.8H453.9V430.9H454.6V434.8H455.3V433.0H456.1V434.9H456.8V436.6H457.6V438.4H458.3V436.9H459.0V437.7H459.8V439.8H460.5V441.1H461.2V440.4H462.0V442.2H462.7V441.6H463.5V444.2H464.2V441.6H464.9V442.7H465.7V443.3H466.4V443.7H467.1V446.0H467.9V444.5H468.6V446.0H469.4V444.5H470.1V445.0H470.8V445.2H471.6V446.6H472.3V445.8H473.0V446.4H473.8V447.0H474.5V447.7H475.3V447.9H476.0V447.4H476.7V447.8H477.5V448.0H478.2V448.9H478.9V448.8H479.7V448.4H480.4V448.3H481.2V448.2H481.9V448.4H482.6V448.7H483.4V448.5H484.1V448.7H484.8V448.6H485.6V448.9H486.3V449.4H487.1V448.6H487.8V449.1H488.5V448.7H489.3V449.4H490.0V449.2H490.7V448.8H491.5V448.7H492.2V448.9H493.0V448.8H493.7V448.8H494.4V449.6H495.2V448.9H495.9V449.1H496.6V450.2H497.4V449.1H498.1V450.3H498.9V449.1H499.6V450.5H500.3V449.7H501.1V449.2H501.8V449.2H502.5V449.9H503.3V450.0H504.0V449.7H504.8V450.1H505.5V449.5H506.2V450.6H507.0V449.9H507.7V450.2H508.4" fill="none" stroke="#e3122f" stroke-width="2.2" stroke-linejoin="round"/>
<path d="M64.0 684.5H64.8V684.5H65.5V684.5H66.3V684.5H67.0V684.3H67.8V684.3H68.6V684.5H69.3V684.5H70.1V684.5H70.8V684.2H71.6V684.2H72.4V684.3H73.1V684.5H73.9V684.5H74.7V684.3H75.4V684.3H76.2V684.4H76.9V683.9H77.7V684.5H78.5V684.2H79.2V684.2H80.0V684.5H80.7V684.1H81.5V684.0H82.3V684.0H83.0V684.1H83.8V684.4H84.5V684.1H85.3V683.9H86.1V684.1H86.8V684.4H87.6V684.2H88.3V684.5H89.1V684.5H89.9V684.2H90.6V684.3H91.4V684.3H92.2V684.3H92.9V684.5H93.7V684.0H94.4V684.5H95.2V684.2H96.0V684.5H96.7V683.9H97.5V684.2H98.2V684.0H99.0V683.8H99.8V683.9H100.5V683.9H101.3V683.4H102.0V683.3H102.8V683.0H103.6V683.2H104.3V682.5H105.1V682.6H105.9V683.2H106.6V681.6H107.4V682.0H108.1V681.7H108.9V680.9H109.7V681.8H110.4V680.6H111.2V680.9H111.9V681.1H112.7V679.7H113.5V679.3H114.2V678.8H115.0V679.2H115.7V677.9H116.5V677.0H117.3V676.0H118.0V671.4H118.8V671.5H119.5V669.7H120.3V668.2H121.1V664.2H121.8V661.8H122.6V658.2H123.4V654.1H124.1V651.1H124.9V647.7H125.6V643.6H126.4V642.0H127.2V640.0H127.9V639.8H128.7V634.2H129.4V634.0H130.2V630.8H131.0V624.2H131.7V619.3H132.5V614.5H133.2V616.4H134.0V606.1H134.8V606.2H135.5V606.0H136.3V603.1H137.0V600.5H137.8V602.7H138.6V602.0H139.3V594.3H140.1V591.4H140.9V588.8H141.6V585.6H142.4V587.6H143.1V579.4H143.9V580.1H144.7V577.7H145.4V579.2H146.2V585.1H146.9V590.1H147.7V587.9H148.5V580.9H149.2V583.1H150.0V583.3H150.7V577.8H151.5V581.6H152.3V583.5H153.0V589.8H153.8V596.3H154.6V597.3H155.3V598.1H156.1V600.2H156.8V608.9H157.6V610.7H158.4V611.7H159.1V619.4H159.9V617.4H160.6V624.9H161.4V618.7H162.2V623.8H162.9V624.7H163.7V623.0H164.4V624.3H165.2V623.1H166.0V633.6H166.7V635.3H167.5V639.5H168.2V637.5H169.0V638.4H169.8V643.3H170.5V642.0H171.3V644.6H172.1V646.4H172.8V647.2H173.6V650.2H174.3V652.2H175.1V656.3H175.9V653.8H176.6V657.6H177.4V656.2H178.1V655.8H178.9V660.1H179.7V661.7H180.4V663.6H181.2V666.0H181.9V666.6H182.7V665.9H183.5V666.7H184.2V670.6H185.0V670.0H185.7V672.1H186.5V671.5H187.3V671.6H188.0V673.6H188.8V675.0H189.6V675.4H190.3V677.8H191.1V677.6H191.8V677.3H192.6V679.2H193.4V679.2H194.1V680.8H194.9V681.2H195.6V681.1H196.4V682.5H197.2V682.2H197.9V683.0H198.7V683.2H199.4V683.4H200.2V684.1H201.0V684.1H201.7V684.0H202.5V684.1H203.3V683.7H204.0V684.2H204.8V684.2H205.5V684.1H206.3V684.0H207.1V684.0H207.8V684.1H208.6V683.9H209.3V684.2H210.1V684.2H210.9V684.3H211.6V684.0H212.4V684.5H213.1V684.3H213.9V683.7H214.7V684.2H215.4V684.2H216.2V684.0H216.9V684.2H217.7V684.0H218.5V684.2H219.2V684.2H220.0V684.4H220.8V684.3H221.5V684.3H222.3V684.0H223.0V684.3H223.8V684.3H224.6V684.0H225.3V684.5H226.1V683.9H226.8V684.3H227.6V684.5H228.4V684.2H229.1V684.3H229.9V684.4H230.6V684.5H231.4V684.2H232.2V684.2H232.9V684.4H233.7V684.5H234.4V684.3H235.2V684.1H236.0V684.4H236.7V684.2H237.5V684.0H238.3V684.0H239.0V684.4H239.8V684.5H240.5V684.5H241.3V684.4H242.1V683.9H242.8V684.5H243.6V684.3H244.3V684.3H245.1V684.3H245.9V684.5H246.6V684.5H247.4V684.4H248.1V684.5H248.9V684.5H249.7V684.3H250.4V684.3H251.2V684.5H252.0V684.2H252.7V684.4H253.5V684.3H254.2V684.5H255.0V684.4H255.8V684.5H256.5V684.5H257.3V684.5H258.0V684.8H64.0Z" fill="#e2e2eb" stroke="none"/>
<path d="M64.0 684.5H64.8V684.5H65.5V684.5H66.3V684.5H67.0V684.3H67.8V684.3H68.6V684.5H69.3V684.5H70.1V684.5H70.8V684.2H71.6V684.2H72.4V684.3H73.1V684.5H73.9V684.5H74.7V684.3H75.4V684.3H76.2V684.4H76.9V683.9H77.7V684.5H78.5V684.2H79.2V684.2H80.0V684.5H80.7V684.1H81.5V684.0H82.3V684.0H83.0V684.1H83.8V684.4H84.5V684.1H85.3V683.9H86.1V684.1H86.8V684.4H87.6V684.2H88.3V684.5H89.1V684.5H89.9V684.2H90.6V684.3H91.4V684.3H92.2V684.3H92.9V684.5H93.7V684.0H94.4V684.5H95.2V684.2H96.0V684.5H96.7V683.9H97.5V684.2H98.2V684.0H99.0V683.8H99.8V683.9H100.5V683.9H101.3V683.4H102.0V683.3H102.8V683.0H103.6V683.2H104.3V682.5H105.1V682.6H105.9V683.2H106.6V681.6H107.4V682.0H108.1V681.7H108.9V680.9H109.7V681.8H110.4V680.6H111.2V680.9H111.9V681.1H112.7V679.7H113.5V679.3H114.2V678.8H115.0V679.2H115.7V677.9H116.5V677.0H117.3V676.0H118.0V671.4H118.8V671.5H119.5V669.7H120.3V668.2H121.1V664.2H121.8V661.8H122.6V658.2H123.4V654.1H124.1V651.1H124.9V647.7H125.6V643.6H126.4V642.0H127.2V640.0H127.9V639.8H128.7V634.2H129.4V634.0H130.2V630.8H131.0V624.2H131.7V619.3H132.5V614.5H133.2V616.4H134.0V606.1H134.8V606.2H135.5V606.0H136.3V603.1H137.0V600.5H137.8V602.7H138.6V602.0H139.3V594.3H140.1V591.4H140.9V588.8H141.6V585.6H142.4V587.6H143.1V579.4H143.9V580.1H144.7V577.7H145.4V579.2H146.2V585.1H146.9V590.1H147.7V587.9H148.5V580.9H149.2V583.1H150.0V583.3H150.7V577.8H151.5V581.6H152.3V583.5H153.0V589.8H153.8V596.3H154.6V597.3H155.3V598.1H156.1V600.2H156.8V608.9H157.6V610.7H158.4V611.7H159.1V619.4H159.9V617.4H160.6V624.9H161.4V618.7H162.2V623.8H162.9V624.7H163.7V623.0H164.4V624.3H165.2V623.1H166.0V633.6H166.7V635.3H167.5V639.5H168.2V637.5H169.0V638.4H169.8V643.3H170.5V642.0H171.3V644.6H172.1V646.4H172.8V647.2H173.6V650.2H174.3V652.2H175.1V656.3H175.9V653.8H176.6V657.6H177.4V656.2H178.1V655.8H178.9V660.1H179.7V661.7H180.4V663.6H181.2V666.0H181.9V666.6H182.7V665.9H183.5V666.7H184.2V670.6H185.0V670.0H185.7V672.1H186.5V671.5H187.3V671.6H188.0V673.6H188.8V675.0H189.6V675.4H190.3V677.8H191.1V677.6H191.8V677.3H192.6V679.2H193.4V679.2H194.1V680.8H194.9V681.2H195.6V681.1H196.4V682.5H197.2V682.2H197.9V683.0H198.7V683.2H199.4V683.4H200.2V684.1H201.0V684.1H201.7V684.0H202.5V684.1H203.3V683.7H204.0V684.2H204.8V684.2H205.5V684.1H206.3V684.0H207.1V684.0H207.8V684.1H208.6V683.9H209.3V684.2H210.1V684.2H210.9V684.3H211.6V684.0H212.4V684.5H213.1V684.3H213.9V683.7H214.7V684.2H215.4V684.2H216.2V684.0H216.9V684.2H217.7V684.0H218.5V684.2H219.2V684.2H220.0V684.4H220.8V684.3H221.5V684.3H222.3V684.0H223.0V684.3H223.8V684.3H224.6V684.0H225.3V684.5H226.1V683.9H226.8V684.3H227.6V684.5H228.4V684.2H229.1V684.3H229.9V684.4H230.6V684.5H231.4V684.2H232.2V684.2H232.9V684.4H233.7V684.5H234.4V684.3H235.2V684.1H236.0V684.4H236.7V684.2H237.5V684.0H238.3V684.0H239.0V684.4H239.8V684.5H240.5V684.5H241.3V684.4H242.1V683.9H242.8V684.5H243.6V684.3H244.3V684.3H245.1V684.3H245.9V684.5H246.6V684.5H247.4V684.4H248.1V684.5H248.9V684.5H249.7V684.3H250.4V684.3H251.2V684.5H252.0V684.2H252.7V684.4H253.5V684.3H254.2V684.5H255.0V684.4H255.8V684.5H256.5V684.5H257.3V684.5H258.0" fill="none" stroke="#161616" stroke-width="1.2" stroke-linejoin="round"/>
<path d="M64.0 684.5H64.8V684.4H65.5V684.5H66.3V684.5H67.0V684.5H67.8V684.5H68.6V684.5H69.3V684.4H70.1V684.5H70.8V684.5H71.6V684.5H72.4V684.5H73.1V684.5H73.9V684.5H74.7V684.5H75.4V684.5H76.2V684.4H76.9V684.4H77.7V684.4H78.5V684.5H79.2V684.5H80.0V684.3H80.7V684.5H81.5V684.5H82.3V684.5H83.0V684.5H83.8V684.4H84.5V684.3H85.3V684.4H86.1V684.5H86.8V684.5H87.6V684.5H88.3V684.5H89.1V684.5H89.9V684.5H90.6V684.5H91.4V684.5H92.2V684.5H92.9V684.5H93.7V684.4H94.4V684.4H95.2V684.4H96.0V684.4H96.7V684.5H97.5V684.3H98.2V684.3H99.0V684.3H99.8V684.5H100.5V684.5H101.3V684.5H102.0V684.4H102.8V684.4H103.6V684.5H104.3V684.4H105.1V684.3H105.9V684.5H106.6V684.5H107.4V684.5H108.1V684.4H108.9V684.4H109.7V684.3H110.4V684.5H111.2V684.5H111.9V684.5H112.7V684.4H113.5V684.5H114.2V684.5H115.0V684.5H115.7V684.5H116.5V684.3H117.3V684.5H118.0V684.5H118.8V684.3H119.5V684.4H120.3V684.5H121.1V684.4H121.8V684.4H122.6V684.4H123.4V684.4H124.1V684.4H124.9V684.2H125.6V684.5H126.4V684.5H127.2V684.5H127.9V684.4H128.7V684.3H129.4V684.4H130.2V684.4H131.0V684.5H131.7V684.2H132.5V684.2H133.2V684.1H134.0V684.4H134.8V683.8H135.5V683.8H136.3V683.8H137.0V683.8H137.8V683.5H138.6V683.4H139.3V683.3H140.1V682.5H140.9V682.0H141.6V681.7H142.4V680.8H143.1V681.0H143.9V680.6H144.7V680.7H145.4V679.7H146.2V678.5H146.9V678.4H147.7V675.6H148.5V674.9H149.2V672.1H150.0V670.4H150.7V669.3H151.5V666.6H152.3V664.0H153.0V661.4H153.8V656.4H154.6V652.6H155.3V647.0H156.1V640.9H156.8V638.3H157.6V629.6H158.4V622.2H159.1V618.9H159.9V609.6H160.6V601.7H161.4V595.9H162.2V587.8H162.9V578.8H163.7V569.6H164.4V562.4H165.2V564.4H166.0V558.7H166.7V555.1H167.5V555.6H168.2V555.8H169.0V560.9H169.8V559.6H170.5V558.6H171.3V556.8H172.1V555.1H172.8V556.1H173.6V563.6H174.3V563.4H175.1V565.9H175.9V567.4H176.6V572.7H177.4V573.1H178.1V578.7H178.9V583.0H179.7V578.8H180.4V573.1H181.2V573.8H181.9V584.6H182.7V587.5H183.5V591.3H184.2V594.7H185.0V602.8H185.7V605.1H186.5V611.5H187.3V610.0H188.0V615.9H188.8V617.3H189.6V623.6H190.3V623.5H191.1V629.4H191.8V633.5H192.6V638.7H193.4V639.7H194.1V642.1H194.9V647.3H195.6V649.9H196.4V655.5H197.2V656.8H197.9V659.6H198.7V662.7H199.4V663.5H200.2V666.1H201.0V667.7H201.7V666.9H202.5V664.5H203.3V666.9H204.0V668.9H204.8V672.5H205.5V674.2H206.3V675.4H207.1V676.3H207.8V678.0H208.6V676.6H209.3V678.1H210.1V679.7H210.9V679.4H211.6V680.9H212.4V681.3H213.1V680.8H213.9V680.8H214.7V681.6H215.4V681.1H216.2V682.6H216.9V682.3H217.7V681.9H218.5V682.3H219.2V682.9H220.0V682.2H220.8V682.3H221.5V682.9H222.3V682.6H223.0V682.9H223.8V682.5H224.6V683.6H225.3V683.3H226.1V683.6H226.8V684.1H227.6V684.1H228.4V684.1H229.1V684.1H229.9V684.5H230.6V684.4H231.4V684.4H232.2V684.5H232.9V684.5H233.7V684.5H234.4V684.3H235.2V684.4H236.0V684.5H236.7V684.5H237.5V684.5H238.3V684.4H239.0V684.5H239.8V684.5H240.5V684.5H241.3V684.4H242.1V684.5H242.8V684.5H243.6V684.4H244.3V684.4H245.1V684.5H245.9V684.5H246.6V684.4H247.4V684.5H248.1V684.3H248.9V684.4H249.7V684.5H250.4V684.4H251.2V684.5H252.0V684.4H252.7V684.5H253.5V684.5H254.2V684.5H255.0V684.5H255.8V684.3H256.5V684.5H257.3V684.2H258.0" fill="none" stroke="#dc3aae" stroke-width="1.4" stroke-linejoin="round"/>
<path d="M64.0 684.5H64.8V684.5H65.5V684.4H66.3V684.5H67.0V684.5H67.8V684.5H68.6V684.5H69.3V684.4H70.1V684.5H70.8V684.5H71.6V684.5H72.4V684.5H73.1V684.5H73.9V684.4H74.7V684.4H75.4V684.5H76.2V684.5H76.9V684.3H77.7V684.5H78.5V684.5H79.2V684.4H80.0V684.5H80.7V684.4H81.5V684.5H82.3V684.5H83.0V684.5H83.8V684.5H84.5V684.3H85.3V684.5H86.1V684.5H86.8V684.4H87.6V684.5H88.3V684.5H89.1V684.5H89.9V684.5H90.6V684.5H91.4V684.4H92.2V684.4H92.9V684.5H93.7V684.5H94.4V684.5H95.2V684.5H96.0V684.5H96.7V684.5H97.5V684.4H98.2V684.5H99.0V684.5H99.8V684.5H100.5V684.4H101.3V684.4H102.0V684.0H102.8V683.8H103.6V684.2H104.3V683.9H105.1V683.7H105.9V683.4H106.6V683.5H107.4V683.8H108.1V683.2H108.9V683.2H109.7V682.7H110.4V682.7H111.2V683.6H111.9V682.9H112.7V682.8H113.5V681.8H114.2V682.1H115.0V681.7H115.7V681.5H116.5V681.0H117.3V679.8H118.0V680.0H118.8V679.1H119.5V680.3H120.3V678.3H121.1V678.1H121.8V677.6H122.6V677.1H123.4V676.1H124.1V672.5H124.9V666.8H125.6V665.9H126.4V660.9H127.2V655.9H127.9V652.0H128.7V648.4H129.4V644.9H130.2V640.7H131.0V636.0H131.7V630.6H132.5V628.2H133.2V622.6H134.0V622.7H134.8V616.8H135.5V614.7H136.3V612.7H137.0V604.9H137.8V604.0H138.6V603.2H139.3V601.8H140.1V597.6H140.9V595.5H141.6V591.0H142.4V589.3H143.1V590.7H143.9V587.3H144.7V586.1H145.4V585.0H146.2V584.5H146.9V582.3H147.7V579.6H148.5V582.0H149.2V575.0H150.0V576.9H150.7V577.7H151.5V578.9H152.3V583.9H153.0V584.0H153.8V586.3H154.6V591.8H155.3V589.2H156.1V592.2H156.8V596.2H157.6V596.1H158.4V597.2H159.1V602.0H159.9V600.8H160.6V604.8H161.4V605.3H162.2V607.1H162.9V608.2H163.7V611.0H164.4V612.0H165.2V612.9H166.0V616.0H166.7V617.9H167.5V617.4H168.2V620.7H169.0V620.1H169.8V623.1H170.5V622.9H171.3V622.8H172.1V624.5H172.8V626.1H173.6V627.5H174.3V629.5H175.1V629.6H175.9V633.6H176.6V634.5H177.4V638.2H178.1V641.4H178.9V641.4H179.7V646.8H180.4V647.2H181.2V649.8H181.9V652.1H182.7V656.5H183.5V658.6H184.2V659.5H185.0V663.9H185.7V664.7H186.5V667.7H187.3V666.5H188.0V670.8H188.8V671.7H189.6V674.2H190.3V675.0H191.1V676.4H191.8V677.3H192.6V676.7H193.4V677.7H194.1V679.1H194.9V679.1H195.6V679.5H196.4V680.7H197.2V681.3H197.9V681.4H198.7V681.7H199.4V681.8H200.2V681.9H201.0V682.5H201.7V682.6H202.5V682.8H203.3V683.5H204.0V683.5H204.8V683.8H205.5V684.3H206.3V684.1H207.1V684.4H207.8V684.0H208.6V684.0H209.3V684.1H210.1V683.8H210.9V684.3H211.6V683.9H212.4V684.5H213.1V684.4H213.9V684.2H214.7V684.2H215.4V684.3H216.2V684.0H216.9V684.0H217.7V684.2H218.5V684.3H219.2V684.0H220.0V684.4H220.8V684.3H221.5V684.2H222.3V684.3H223.0V684.2H223.8V684.2H224.6V684.3H225.3V684.3H226.1V684.0H226.8V684.1H227.6V684.3H228.4V684.0H229.1V684.4H229.9V684.2H230.6V684.1H231.4V684.2H232.2V684.2H232.9V684.4H233.7V684.1H234.4V684.4H235.2V684.3H236.0V684.0H236.7V684.3H237.5V684.3H238.3V684.1H239.0V684.5H239.8V684.5H240.5V684.3H241.3V684.4H242.1V684.3H242.8V684.5H243.6V684.4H244.3V684.3H245.1V684.4H245.9V684.3H246.6V684.3H247.4V684.4H248.1V684.2H248.9V684.5H249.7V684.5H250.4V684.4H251.2V684.4H252.0V684.4H252.7V684.4H253.5V684.5H254.2V684.5H255.0V684.5H255.8V684.4H256.5V684.5H257.3V684.4H258.0" fill="none" stroke="#4ad6de" stroke-width="1.4" stroke-linejoin="round"/>
<path d="M314.0 684.4H314.8V684.3H315.5V684.7H316.3V684.3H317.0V684.1H317.8V684.2H318.6V684.7H319.3V684.5H320.1V684.2H320.9V684.7H321.6V684.3H322.4V684.2H323.1V684.5H323.9V684.7H324.7V684.7H325.4V684.4H326.2V684.4H327.0V684.3H327.7V684.3H328.5V684.5H329.2V684.6H330.0V684.4H330.8V684.6H331.5V684.1H332.3V684.3H333.1V684.1H333.8V684.2H334.6V684.5H335.3V684.4H336.1V684.3H336.9V684.5H337.6V684.0H338.4V684.3H339.2V684.2H339.9V684.4H340.7V684.2H341.4V684.4H342.2V683.9H343.0V684.1H343.7V684.0H344.5V684.1H345.3V684.2H346.0V684.2H346.8V684.1H347.5V683.7H348.3V684.5H349.1V684.7H349.8V684.0H350.6V684.0H351.4V683.5H352.1V683.1H352.9V683.9H353.6V683.5H354.4V683.0H355.2V683.3H355.9V682.4H356.7V682.4H357.5V683.5H358.2V682.2H359.0V681.8H359.7V682.1H360.5V681.4H361.3V680.2H362.0V678.3H362.8V676.2H363.6V674.8H364.3V670.7H365.1V670.2H365.8V668.0H366.6V665.3H367.4V662.5H368.1V659.1H368.9V656.5H369.7V653.6H370.4V650.3H371.2V650.4H371.9V643.5H372.7V642.6H373.5V641.5H374.2V641.0H375.0V637.7H375.8V634.0H376.5V632.0H377.3V625.8H378.0V623.3H378.8V621.3H379.6V614.6H380.3V611.9H381.1V611.0H381.9V605.7H382.6V596.5H383.4V596.4H384.1V592.7H384.9V590.9H385.7V592.0H386.4V578.5H387.2V580.4H388.0V570.5H388.7V568.6H389.5V568.0H390.2V559.9H391.0V556.1H391.8V552.3H392.5V547.6H393.3V545.1H394.1V543.1H394.8V544.7H395.6V551.0H396.3V558.1H397.1V562.6H397.9V563.9H398.6V572.3H399.4V578.3H400.2V587.0H400.9V595.4H401.7V599.9H402.4V611.0H403.2V614.0H404.0V617.4H404.7V627.6H405.5V635.8H406.3V642.3H407.0V642.5H407.8V653.4H408.5V658.6H409.3V661.3H410.1V663.5H410.8V666.4H411.6V667.0H412.4V670.7H413.1V672.1H413.9V672.4H414.6V673.7H415.4V676.2H416.2V677.0H416.9V678.5H417.7V680.0H418.5V678.9H419.2V680.2H420.0V680.0H420.7V682.0H421.5V680.9H422.3V681.8H423.0V681.2H423.8V681.9H424.6V682.5H425.3V682.3H426.1V682.8H426.8V683.1H427.6V683.2H428.4V683.5H429.1V683.2H429.9V684.0H430.7V684.2H431.4V684.2H432.2V683.5H432.9V684.2H433.7V683.7H434.5V684.0H435.2V684.3H436.0V684.3H436.8V684.1H437.5V684.2H438.3V683.9H439.0V684.5H439.8V683.9H440.6V684.3H441.3V684.1H442.1V684.0H442.9V684.3H443.6V684.3H444.4V684.1H445.1V684.1H445.9V684.2H446.7V684.4H447.4V684.3H448.2V684.1H449.0V683.9H449.7V684.1H450.5V684.0H451.2V683.9H452.0V683.6H452.8V683.9H453.5V684.5H454.3V684.2H455.1V684.3H455.8V684.3H456.6V684.2H457.3V684.7H458.1V683.9H458.9V684.2H459.6V684.3H460.4V684.1H461.2V684.2H461.9V684.5H462.7V684.2H463.4V684.5H464.2V684.1H465.0V684.2H465.7V684.0H466.5V684.3H467.3V684.4H468.0V684.3H468.8V684.4H469.5V684.4H470.3V684.0H471.1V683.9H471.8V684.0H472.6V684.1H473.4V684.5H474.1V684.1H474.9V684.4H475.6V683.9H476.4V684.3H477.2V683.9H477.9V684.3H478.7V684.6H479.5V684.2H480.2V684.1H481.0V684.4H481.7V684.2H482.5V684.7H483.3V684.4H484.0V684.2H484.8V684.2H485.6V684.7H486.3V684.5H487.1V684.3H487.8V684.0H488.6V684.2H489.4V684.6H490.1V684.0H490.9V684.7H491.7V684.5H492.4V684.2H493.2V684.6H493.9V683.9H494.7V684.5H495.5V684.4H496.2V684.5H497.0V684.7H497.8V684.4H498.5V684.0H499.3V684.4H500.0V684.3H500.8V684.6H501.6V684.3H502.3V684.5H503.1V684.4H503.9V684.4H504.6V684.4H505.4V684.7H506.1V684.3H506.9V684.5H507.7V684.1H508.4V684.4H509.2V684.3H510.0V684.5H510.7V684.5H511.5V684.6H512.2V685.0H314.0Z" fill="#e2e2eb" stroke="none"/>
<path d="M314.0 684.4H314.8V684.3H315.5V684.7H316.3V684.3H317.0V684.1H317.8V684.2H318.6V684.7H319.3V684.5H320.1V684.2H320.9V684.7H321.6V684.3H322.4V684.2H323.1V684.5H323.9V684.7H324.7V684.7H325.4V684.4H326.2V684.4H327.0V684.3H327.7V684.3H328.5V684.5H329.2V684.6H330.0V684.4H330.8V684.6H331.5V684.1H332.3V684.3H333.1V684.1H333.8V684.2H334.6V684.5H335.3V684.4H336.1V684.3H336.9V684.5H337.6V684.0H338.4V684.3H339.2V684.2H339.9V684.4H340.7V684.2H341.4V684.4H342.2V683.9H343.0V684.1H343.7V684.0H344.5V684.1H345.3V684.2H346.0V684.2H346.8V684.1H347.5V683.7H348.3V684.5H349.1V684.7H349.8V684.0H350.6V684.0H351.4V683.5H352.1V683.1H352.9V683.9H353.6V683.5H354.4V683.0H355.2V683.3H355.9V682.4H356.7V682.4H357.5V683.5H358.2V682.2H359.0V681.8H359.7V682.1H360.5V681.4H361.3V680.2H362.0V678.3H362.8V676.2H363.6V674.8H364.3V670.7H365.1V670.2H365.8V668.0H366.6V665.3H367.4V662.5H368.1V659.1H368.9V656.5H369.7V653.6H370.4V650.3H371.2V650.4H371.9V643.5H372.7V642.6H373.5V641.5H374.2V641.0H375.0V637.7H375.8V634.0H376.5V632.0H377.3V625.8H378.0V623.3H378.8V621.3H379.6V614.6H380.3V611.9H381.1V611.0H381.9V605.7H382.6V596.5H383.4V596.4H384.1V592.7H384.9V590.9H385.7V592.0H386.4V578.5H387.2V580.4H388.0V570.5H388.7V568.6H389.5V568.0H390.2V559.9H391.0V556.1H391.8V552.3H392.5V547.6H393.3V545.1H394.1V543.1H394.8V544.7H395.6V551.0H396.3V558.1H397.1V562.6H397.9V563.9H398.6V572.3H399.4V578.3H400.2V587.0H400.9V595.4H401.7V599.9H402.4V611.0H403.2V614.0H404.0V617.4H404.7V627.6H405.5V635.8H406.3V642.3H407.0V642.5H407.8V653.4H408.5V658.6H409.3V661.3H410.1V663.5H410.8V666.4H411.6V667.0H412.4V670.7H413.1V672.1H413.9V672.4H414.6V673.7H415.4V676.2H416.2V677.0H416.9V678.5H417.7V680.0H418.5V678.9H419.2V680.2H420.0V680.0H420.7V682.0H421.5V680.9H422.3V681.8H423.0V681.2H423.8V681.9H424.6V682.5H425.3V682.3H426.1V682.8H426.8V683.1H427.6V683.2H428.4V683.5H429.1V683.2H429.9V684.0H430.7V684.2H431.4V684.2H432.2V683.5H432.9V684.2H433.7V683.7H434.5V684.0H435.2V684.3H436.0V684.3H436.8V684.1H437.5V684.2H438.3V683.9H439.0V684.5H439.8V683.9H440.6V684.3H441.3V684.1H442.1V684.0H442.9V684.3H443.6V684.3H444.4V684.1H445.1V684.1H445.9V684.2H446.7V684.4H447.4V684.3H448.2V684.1H449.0V683.9H449.7V684.1H450.5V684.0H451.2V683.9H452.0V683.6H452.8V683.9H453.5V684.5H454.3V684.2H455.1V684.3H455.8V684.3H456.6V684.2H457.3V684.7H458.1V683.9H458.9V684.2H459.6V684.3H460.4V684.1H461.2V684.2H461.9V684.5H462.7V684.2H463.4V684.5H464.2V684.1H465.0V684.2H465.7V684.0H466.5V684.3H467.3V684.4H468.0V684.3H468.8V684.4H469.5V684.4H470.3V684.0H471.1V683.9H471.8V684.0H472.6V684.1H473.4V684.5H474.1V684.1H474.9V684.4H475.6V683.9H476.4V684.3H477.2V683.9H477.9V684.3H478.7V684.6H479.5V684.2H480.2V684.1H481.0V684.4H481.7V684.2H482.5V684.7H483.3V684.4H484.0V684.2H484.8V684.2H485.6V684.7H486.3V684.5H487.1V684.3H487.8V684.0H488.6V684.2H489.4V684.6H490.1V684.0H490.9V684.7H491.7V684.5H492.4V684.2H493.2V684.6H493.9V683.9H494.7V684.5H495.5V684.4H496.2V684.5H497.0V684.7H497.8V684.4H498.5V684.0H499.3V684.4H500.0V684.3H500.8V684.6H501.6V684.3H502.3V684.5H503.1V684.4H503.9V684.4H504.6V684.4H505.4V684.7H506.1V684.3H506.9V684.5H507.7V684.1H508.4V684.4H509.2V684.3H510.0V684.5H510.7V684.5H511.5V684.6H512.2" fill="none" stroke="#161616" stroke-width="1.2" stroke-linejoin="round"/>
<path d="M314.0 684.4H314.8V684.4H315.5V684.6H316.3V684.6H317.0V684.4H317.8V684.4H318.6V684.6H319.3V684.5H320.1V684.4H320.9V684.4H321.6V684.6H322.4V684.7H323.1V684.4H323.9V684.4H324.7V684.3H325.4V684.6H326.2V684.3H327.0V684.5H327.7V684.3H328.5V684.4H329.2V684.4H330.0V684.2H330.8V684.4H331.5V684.3H332.3V684.2H333.1V684.4H333.8V684.5H334.6V684.5H335.3V684.2H336.1V684.5H336.9V684.6H337.6V684.1H338.4V684.6H339.2V684.6H339.9V684.6H340.7V684.4H341.4V684.7H342.2V684.6H343.0V684.5H343.7V684.4H344.5V684.4H345.3V684.4H346.0V684.3H346.8V684.3H347.5V683.9H348.3V684.4H349.1V684.0H349.8V684.6H350.6V684.5H351.4V684.3H352.1V684.5H352.9V684.6H353.6V684.2H354.4V684.3H355.2V684.4H355.9V684.1H356.7V684.6H357.5V684.3H358.2V684.1H359.0V684.4H359.7V684.1H360.5V684.5H361.3V684.0H362.0V683.8H362.8V683.2H363.6V682.8H364.3V682.3H365.1V682.5H365.8V682.2H366.6V681.5H367.4V680.9H368.1V680.7H368.9V681.1H369.7V680.2H370.4V679.4H371.2V679.1H371.9V679.1H372.7V677.3H373.5V676.0H374.2V675.4H375.0V674.8H375.8V675.0H376.5V674.2H377.3V672.3H378.0V670.9H378.8V672.2H379.6V670.3H380.3V667.0H381.1V665.3H381.9V661.3H382.6V657.6H383.4V656.0H384.1V651.6H384.9V649.1H385.7V646.3H386.4V640.7H387.2V639.5H388.0V634.3H388.7V633.4H389.5V622.1H390.2V622.0H391.0V610.8H391.8V604.1H392.5V599.3H393.3V591.2H394.1V583.2H394.8V576.2H395.6V562.8H396.3V554.9H397.1V555.0H397.9V544.0H398.6V539.4H399.4V541.3H400.2V532.4H400.9V528.7H401.7V527.9H402.4V530.4H403.2V537.1H404.0V537.7H404.7V537.9H405.5V545.9H406.3V545.9H407.0V548.6H407.8V558.4H408.5V564.6H409.3V573.2H410.1V580.6H410.8V581.8H411.6V593.4H412.4V597.7H413.1V604.9H413.9V613.7H414.6V620.9H415.4V630.2H416.2V636.3H416.9V640.8H417.7V643.4H418.5V649.4H419.2V655.0H420.0V659.0H420.7V660.7H421.5V663.1H422.3V666.1H423.0V668.4H423.8V670.1H424.6V672.0H425.3V671.9H426.1V672.3H426.8V673.6H427.6V674.8H428.4V676.3H429.1V677.0H429.9V678.2H430.7V678.8H431.4V680.0H432.2V680.7H432.9V680.3H433.7V680.8H434.5V681.3H435.2V681.2H436.0V681.7H436.8V681.8H437.5V681.8H438.3V682.3H439.0V682.1H439.8V683.1H440.6V682.3H441.3V682.8H442.1V683.4H442.9V682.9H443.6V682.8H444.4V683.4H445.1V682.8H445.9V683.0H446.7V682.6H447.4V683.1H448.2V683.4H449.0V682.8H449.7V683.0H450.5V683.3H451.2V682.7H452.0V682.8H452.8V683.6H453.5V683.7H454.3V683.3H455.1V683.1H455.8V683.4H456.6V683.1H457.3V683.1H458.1V682.9H458.9V683.9H459.6V683.3H460.4V683.5H461.2V683.4H461.9V683.7H462.7V683.6H463.4V683.6H464.2V683.0H465.0V683.8H465.7V683.5H466.5V683.3H467.3V683.6H468.0V683.7H468.8V684.2H469.5V683.4H470.3V683.3H471.1V683.7H471.8V683.3H472.6V683.5H473.4V683.7H474.1V683.9H474.9V683.4H475.6V683.6H476.4V683.8H477.2V683.6H477.9V683.8H478.7V683.6H479.5V683.5H480.2V683.8H481.0V683.8H481.7V683.8H482.5V684.0H483.3V683.9H484.0V683.9H484.8V684.1H485.6V683.7H486.3V683.8H487.1V684.1H487.8V683.6H488.6V683.8H489.4V684.2H490.1V684.5H490.9V683.7H491.7V683.9H492.4V684.3H493.2V684.0H493.9V684.0H494.7V684.5H495.5V684.1H496.2V684.1H497.0V684.1H497.8V684.3H498.5V684.5H499.3V684.1H500.0V684.5H500.8V684.3H501.6V684.5H502.3V684.3H503.1V684.3H503.9V684.3H504.6V684.5H505.4V684.3H506.1V684.3H506.9V684.3H507.7V684.4H508.4V684.2H509.2V684.4H510.0V684.3H510.7V684.5H511.5V684.5H512.2" fill="none" stroke="#dc3aae" stroke-width="1.4" stroke-linejoin="round"/>
<path d="M314.0 684.4H314.8V684.5H315.5V684.5H316.3V684.5H317.0V684.5H317.8V684.6H318.6V684.5H319.3V684.3H320.1V684.6H320.9V684.5H321.6V684.6H322.4V684.4H323.1V684.4H323.9V684.3H324.7V684.6H325.4V684.3H326.2V684.4H327.0V684.4H327.7V684.6H328.5V684.3H329.2V684.4H330.0V684.4H330.8V684.2H331.5V684.4H332.3V684.4H333.1V684.1H333.8V684.2H334.6V684.5H335.3V684.1H336.1V684.4H336.9V684.3H337.6V684.4H338.4V684.1H339.2V684.2H339.9V684.0H340.7V684.1H341.4V684.3H342.2V684.2H343.0V683.9H343.7V684.3H344.5V684.1H345.3V683.7H346.0V684.1H346.8V683.9H347.5V683.7H348.3V684.1H349.1V684.2H349.8V684.4H350.6V684.1H351.4V684.1H352.1V684.0H352.9V684.4H353.6V683.8H354.4V684.2H355.2V683.8H355.9V684.1H356.7V684.1H357.5V684.1H358.2V683.8H359.0V683.8H359.7V684.0H360.5V683.8H361.3V683.5H362.0V683.1H362.8V683.2H363.6V683.3H364.3V682.5H365.1V682.5H365.8V681.7H366.6V681.9H367.4V682.0H368.1V681.6H368.9V680.0H369.7V679.5H370.4V679.1H371.2V678.2H371.9V677.9H372.7V677.3H373.5V678.0H374.2V676.6H375.0V676.1H375.8V674.4H376.5V675.5H377.3V672.3H378.0V671.9H378.8V669.8H379.6V667.9H380.3V666.4H381.1V664.3H381.9V662.5H382.6V659.5H383.4V659.4H384.1V656.7H384.9V655.2H385.7V651.6H386.4V648.8H387.2V644.5H388.0V644.5H388.7V640.4H389.5V635.6H390.2V630.3H391.0V627.6H391.8V617.9H392.5V618.0H393.3V609.6H394.1V598.9H394.8V592.8H395.6V585.9H396.3V574.7H397.1V570.6H397.9V562.5H398.6V557.1H399.4V549.3H400.2V540.5H400.9V533.7H401.7V534.2H402.4V533.4H403.2V531.9H404.0V532.5H404.7V540.3H405.5V543.8H406.3V548.1H407.0V559.4H407.8V567.0H408.5V571.6H409.3V579.4H410.1V589.8H410.8V597.4H411.6V600.3H412.4V610.1H413.1V617.9H413.9V625.8H414.6V635.0H415.4V640.6H416.2V643.2H416.9V647.7H417.7V653.5H418.5V656.4H419.2V659.1H420.0V663.7H420.7V665.1H421.5V665.3H422.3V668.3H423.0V670.1H423.8V671.6H424.6V672.9H425.3V674.1H426.1V674.9H426.8V676.4H427.6V677.4H428.4V678.6H429.1V679.9H429.9V680.1H430.7V681.3H431.4V681.2H432.2V680.9H432.9V681.9H433.7V681.3H434.5V682.2H435.2V682.6H436.0V682.2H436.8V682.7H437.5V683.3H438.3V683.1H439.0V682.7H439.8V683.4H440.6V683.4H441.3V683.4H442.1V683.7H442.9V683.5H443.6V683.6H444.4V683.7H445.1V683.4H445.9V683.8H446.7V684.0H447.4V683.4H448.2V683.9H449.0V683.7H449.7V683.5H450.5V683.6H451.2V683.8H452.0V683.2H452.8V683.6H453.5V683.8H454.3V683.9H455.1V683.9H455.8V684.0H456.6V684.2H457.3V683.9H458.1V683.7H458.9V683.3H459.6V683.9H460.4V683.6H461.2V683.9H461.9V683.9H462.7V683.7H463.4V683.8H464.2V683.9H465.0V683.7H465.7V683.8H466.5V684.2H467.3V684.0H468.0V684.0H468.8V683.7H469.5V683.6H470.3V684.0H471.1V683.7H471.8V683.7H472.6V684.2H473.4V683.6H474.1V683.5H474.9V683.9H475.6V684.0H476.4V683.9H477.2V683.9H477.9V684.3H478.7V683.9H479.5V683.8H480.2V683.8H481.0V684.1H481.7V684.4H482.5V684.3H483.3V684.2H484.0V684.5H484.8V684.1H485.6V684.3H486.3V684.1H487.1V684.2H487.8V684.2H488.6V684.3H489.4V684.2H490.1V684.1H490.9V684.3H491.7V684.5H492.4V684.4H493.2V684.1H493.9V684.5H494.7V684.2H495.5V684.3H496.2V684.5H497.0V684.3H497.8V684.3H498.5V684.3H499.3V684.7H500.0V683.9H500.8V684.5H501.6V684.4H502.3V684.6H503.1V684.5H503.9V684.7H504.6V684.6H505.4V684.4H506.1V684.4H506.9V684.3H507.7V684.6H508.4V684.4H509.2V684.5H510.0V684.5H510.7V684.4H511.5V684.5H512.2" fill="none" stroke="#4ad6de" stroke-width="1.4" stroke-linejoin="round"/>
<path d="M60.6 36.6H256.8V217.1" fill="none" stroke="#262626" stroke-width="1.35"/>
<path d="M60.6 36.6V217.1H256.8" fill="none" stroke="#111" stroke-width="1.4"/>
<path d="M56.4 217.1H60.6" stroke="#111" stroke-width="1.2"/>
<text transform="translate(54 217.1) rotate(-90) scale(0.92 1)" text-anchor="middle" font-size="8.0" font-weight="bold" class="yl">0</text>
<path d="M58.6 212.59H60.6" stroke="#111" stroke-width="1.2"/>
<path d="M58.6 208.07H60.6" stroke="#111" stroke-width="1.2"/>
<path d="M58.6 203.56H60.6" stroke="#111" stroke-width="1.2"/>
<path d="M58.6 199.05H60.6" stroke="#111" stroke-width="1.2"/>
<path d="M56.4 194.54H60.6" stroke="#111" stroke-width="1.2"/>
<text transform="translate(54 194.54) rotate(-90) scale(0.92 1)" text-anchor="middle" font-size="8.0" font-weight="bold" class="yl">10</text>
<path d="M58.6 190.02H60.6" stroke="#111" stroke-width="1.2"/>
<path d="M58.6 185.51H60.6" stroke="#111" stroke-width="1.2"/>
<path d="M58.6 181H60.6" stroke="#111" stroke-width="1.2"/>
<path d="M58.6 176.49H60.6" stroke="#111" stroke-width="1.2"/>
<path d="M56.4 171.97H60.6" stroke="#111" stroke-width="1.2"/>
<text transform="translate(54 171.97) rotate(-90) scale(0.92 1)" text-anchor="middle" font-size="8.0" font-weight="bold" class="yl">20</text>
<path d="M58.6 167.46H60.6" stroke="#111" stroke-width="1.2"/>
<path d="M58.6 162.95H60.6" stroke="#111" stroke-width="1.2"/>
<path d="M58.6 158.44H60.6" stroke="#111" stroke-width="1.2"/>
<path d="M58.6 153.92H60.6" stroke="#111" stroke-width="1.2"/>
<path d="M56.4 149.41H60.6" stroke="#111" stroke-width="1.2"/>
<text transform="translate(54 149.41) rotate(-90) scale(0.92 1)" text-anchor="middle" font-size="8.0" font-weight="bold" class="yl">30</text>
<path d="M58.6 144.9H60.6" stroke="#111" stroke-width="1.2"/>
<path d="M58.6 140.39H60.6" stroke="#111" stroke-width="1.2"/>
<path d="M58.6 135.88H60.6" stroke="#111" stroke-width="1.2"/>
<path d="M58.6 131.36H60.6" stroke="#111" stroke-width="1.2"/>
<path d="M56.4 126.85H60.6" stroke="#111" stroke-width="1.2"/>
<text transform="translate(54 126.85) rotate(-90) scale(0.92 1)" text-anchor="middle" font-size="8.0" font-weight="bold" class="yl">40</text>
<path d="M58.6 122.34H60.6" stroke="#111" stroke-width="1.2"/>
<path d="M58.6 117.82H60.6" stroke="#111" stroke-width="1.2"/>
<path d="M58.6 113.31H60.6" stroke="#111" stroke-width="1.2"/>
<path d="M58.6 108.8H60.6" stroke="#111" stroke-width="1.2"/>
<path d="M56.4 104.29H60.6" stroke="#111" stroke-width="1.2"/>
<text transform="translate(54 104.29) rotate(-90) scale(0.92 1)" text-anchor="middle" font-size="8.0" font-weight="bold" class="yl">50</text>
<path d="M58.6 99.77H60.6" stroke="#111" stroke-width="1.2"/>
<path d="M58.6 95.26H60.6" stroke="#111" stroke-width="1.2"/>
<path d="M58.6 90.75H60.6" stroke="#111" stroke-width="1.2"/>
<path d="M58.6 86.24H60.6" stroke="#111" stroke-width="1.2"/>
<path d="M56.4 81.72H60.6" stroke="#111" stroke-width="1.2"/>
<text transform="translate(54 81.72) rotate(-90) scale(0.92 1)" text-anchor="middle" font-size="8.0" font-weight="bold" class="yl">60</text>
<path d="M58.6 77.21H60.6" stroke="#111" stroke-width="1.2"/>
<path d="M58.6 72.7H60.6" stroke="#111" stroke-width="1.2"/>
<path d="M58.6 68.19H60.6" stroke="#111" stroke-width="1.2"/>
<path d="M58.6 63.67H60.6" stroke="#111" stroke-width="1.2"/>
<path d="M56.4 59.16H60.6" stroke="#111" stroke-width="1.2"/>
<text transform="translate(54 59.16) rotate(-90) scale(0.92 1)" text-anchor="middle" font-size="8.0" font-weight="bold" class="yl">70</text>
<path d="M58.6 54.65H60.6" stroke="#111" stroke-width="1.2"/>
<path d="M58.6 50.14H60.6" stroke="#111" stroke-width="1.2"/>
<path d="M58.6 45.62H60.6" stroke="#111" stroke-width="1.2"/>
<path d="M58.6 41.11H60.6" stroke="#111" stroke-width="1.2"/>
<path d="M56.4 36.6H60.6" stroke="#111" stroke-width="1.2"/>
<text transform="translate(54 36.6) rotate(-90) scale(0.92 1)" text-anchor="middle" font-size="8.0" font-weight="bold" class="yl">80</text>
<path d="M63.8 217.1V221.5" stroke="#111" stroke-width="1.2"/>
<text x="60.8" y="229.6" font-size="7.6" class="xl">10<tspan dy="-2.6" dx="-0.2" font-size="5.8">0</tspan></text>
<path d="M78.13 217.1V218.9" stroke="#666" stroke-width="0.7"/>
<path d="M86.51 217.1V218.9" stroke="#666" stroke-width="0.7"/>
<path d="M92.46 217.1V218.9" stroke="#666" stroke-width="0.7"/>
<path d="M97.07 217.1V218.9" stroke="#666" stroke-width="0.7"/>
<path d="M100.84 217.1V218.9" stroke="#666" stroke-width="0.7"/>
<path d="M104.03 217.1V218.9" stroke="#666" stroke-width="0.7"/>
<path d="M106.79 217.1V218.9" stroke="#666" stroke-width="0.7"/>
<path d="M109.22 217.1V218.9" stroke="#666" stroke-width="0.7"/>
<path d="M111.4 217.1V221.5" stroke="#111" stroke-width="1.2"/>
<text x="108.4" y="229.6" font-size="7.6" class="xl">10<tspan dy="-2.6" dx="-0.2" font-size="5.8">1</tspan></text>
<path d="M125.73 217.1V218.9" stroke="#666" stroke-width="0.7"/>
<path d="M134.11 217.1V218.9" stroke="#666" stroke-width="0.7"/>
<path d="M140.06 217.1V218.9" stroke="#666" stroke-width="0.7"/>
<path d="M144.67 217.1V218.9" stroke="#666" stroke-width="0.7"/>
<path d="M148.44 217.1V218.9" stroke="#666" stroke-width="0.7"/>
<path d="M151.63 217.1V218.9" stroke="#666" stroke-width="0.7"/>
<path d="M154.39 217.1V218.9" stroke="#666" stroke-width="0.7"/>
<path d="M156.82 217.1V218.9" stroke="#666" stroke-width="0.7"/>
<path d="M159 217.1V221.5" stroke="#111" stroke-width="1.2"/>
<text x="156" y="229.6" font-size="7.6" class="xl">10<tspan dy="-2.6" dx="-0.2" font-size="5.8">2</tspan></text>
<path d="M173.33 217.1V218.9" stroke="#666" stroke-width="0.7"/>
<path d="M181.71 217.1V218.9" stroke="#666" stroke-width="0.7"/>
<path d="M187.66 217.1V218.9" stroke="#666" stroke-width="0.7"/>
<path d="M192.27 217.1V218.9" stroke="#666" stroke-width="0.7"/>
<path d="M196.04 217.1V218.9" stroke="#666" stroke-width="0.7"/>
<path d="M199.23 217.1V218.9" stroke="#666" stroke-width="0.7"/>
<path d="M201.99 217.1V218.9" stroke="#666" stroke-width="0.7"/>
<path d="M204.42 217.1V218.9" stroke="#666" stroke-width="0.7"/>
<path d="M206.6 217.1V221.5" stroke="#111" stroke-width="1.2"/>
<text x="203.6" y="229.6" font-size="7.6" class="xl">10<tspan dy="-2.6" dx="-0.2" font-size="5.8">3</tspan></text>
<path d="M220.93 217.1V218.9" stroke="#666" stroke-width="0.7"/>
<path d="M229.31 217.1V218.9" stroke="#666" stroke-width="0.7"/>
<path d="M235.26 217.1V218.9" stroke="#666" stroke-width="0.7"/>
<path d="M239.87 217.1V218.9" stroke="#666" stroke-width="0.7"/>
<path d="M243.64 217.1V218.9" stroke="#666" stroke-width="0.7"/>
<path d="M246.83 217.1V218.9" stroke="#666" stroke-width="0.7"/>
<path d="M249.59 217.1V218.9" stroke="#666" stroke-width="0.7"/>
<path d="M252.02 217.1V218.9" stroke="#666" stroke-width="0.7"/>
<path d="M254.2 217.1V221.5" stroke="#111" stroke-width="1.2"/>
<text x="251.2" y="229.6" font-size="7.6" class="xl">10<tspan dy="-2.6" dx="-0.2" font-size="5.8">4</tspan></text>
<text transform="translate(63.7 21.9) scale(1.06 1)" font-size="25" font-weight="bold">A</text>
<path d="M311 36.6H506.8V217.4" fill="none" stroke="#262626" stroke-width="1.35"/>
<path d="M311 36.6V217.4H506.8" fill="none" stroke="#111" stroke-width="1.4"/>
<path d="M307.6 217.4H311" stroke="#111" stroke-width="1.2"/>
<text transform="translate(304.7 217.4) rotate(-90) scale(0.92 1)" text-anchor="middle" font-size="7.5" font-weight="bold" class="yl">0</text>
<path d="M309 210.17H311" stroke="#111" stroke-width="1.2"/>
<path d="M309 202.94H311" stroke="#111" stroke-width="1.2"/>
<path d="M309 195.7H311" stroke="#111" stroke-width="1.2"/>
<path d="M309 188.47H311" stroke="#111" stroke-width="1.2"/>
<path d="M307.6 181.24H311" stroke="#111" stroke-width="1.2"/>
<text transform="translate(304.7 181.24) rotate(-90) scale(0.92 1)" text-anchor="middle" font-size="7.5" font-weight="bold" class="yl">20</text>
<path d="M309 174.01H311" stroke="#111" stroke-width="1.2"/>
<path d="M309 166.78H311" stroke="#111" stroke-width="1.2"/>
<path d="M309 159.54H311" stroke="#111" stroke-width="1.2"/>
<path d="M309 152.31H311" stroke="#111" stroke-width="1.2"/>
<path d="M307.6 145.08H311" stroke="#111" stroke-width="1.2"/>
<text transform="translate(304.7 145.08) rotate(-90) scale(0.92 1)" text-anchor="middle" font-size="7.5" font-weight="bold" class="yl">40</text>
<path d="M309 137.85H311" stroke="#111" stroke-width="1.2"/>
<path d="M309 130.62H311" stroke="#111" stroke-width="1.2"/>
<path d="M309 123.38H311" stroke="#111" stroke-width="1.2"/>
<path d="M309 116.15H311" stroke="#111" stroke-width="1.2"/>
<path d="M307.6 108.92H311" stroke="#111" stroke-width="1.2"/>
<text transform="translate(304.7 108.92) rotate(-90) scale(0.92 1)" text-anchor="middle" font-size="7.5" font-weight="bold" class="yl">60</text>
<path d="M309 101.69H311" stroke="#111" stroke-width="1.2"/>
<path d="M309 94.46H311" stroke="#111" stroke-width="1.2"/>
<path d="M309 87.22H311" stroke="#111" stroke-width="1.2"/>
<path d="M309 79.99H311" stroke="#111" stroke-width="1.2"/>
<path d="M307.6 72.76H311" stroke="#111" stroke-width="1.2"/>
<text transform="translate(304.7 72.76) rotate(-90) scale(0.92 1)" text-anchor="middle" font-size="7.5" font-weight="bold" class="yl">80</text>
<path d="M309 65.53H311" stroke="#111" stroke-width="1.2"/>
<path d="M309 58.3H311" stroke="#111" stroke-width="1.2"/>
<path d="M309 51.06H311" stroke="#111" stroke-width="1.2"/>
<path d="M309 43.83H311" stroke="#111" stroke-width="1.2"/>
<path d="M307.6 36.6H311" stroke="#111" stroke-width="1.2"/>
<text transform="translate(304.7 36.6) rotate(-90) scale(0.92 1)" text-anchor="middle" font-size="7.5" font-weight="bold" class="yl">100</text>
<path d="M314.6 217.4V221.8" stroke="#111" stroke-width="1.2"/>
<text x="311.6" y="229.9" font-size="7.6" class="xl">10<tspan dy="-2.6" dx="-0.2" font-size="5.8">0</tspan></text>
<path d="M328.9 217.4V219.2" stroke="#666" stroke-width="0.7"/>
<path d="M337.26 217.4V219.2" stroke="#666" stroke-width="0.7"/>
<path d="M343.2 217.4V219.2" stroke="#666" stroke-width="0.7"/>
<path d="M347.8 217.4V219.2" stroke="#666" stroke-width="0.7"/>
<path d="M351.56 217.4V219.2" stroke="#666" stroke-width="0.7"/>
<path d="M354.74 217.4V219.2" stroke="#666" stroke-width="0.7"/>
<path d="M357.5 217.4V219.2" stroke="#666" stroke-width="0.7"/>
<path d="M359.93 217.4V219.2" stroke="#666" stroke-width="0.7"/>
<path d="M362.1 217.4V221.8" stroke="#111" stroke-width="1.2"/>
<text x="359.1" y="229.9" font-size="7.6" class="xl">10<tspan dy="-2.6" dx="-0.2" font-size="5.8">1</tspan></text>
<path d="M376.4 217.4V219.2" stroke="#666" stroke-width="0.7"/>
<path d="M384.76 217.4V219.2" stroke="#666" stroke-width="0.7"/>
<path d="M390.7 217.4V219.2" stroke="#666" stroke-width="0.7"/>
<path d="M395.3 217.4V219.2" stroke="#666" stroke-width="0.7"/>
<path d="M399.06 217.4V219.2" stroke="#666" stroke-width="0.7"/>
<path d="M402.24 217.4V219.2" stroke="#666" stroke-width="0.7"/>
<path d="M405 217.4V219.2" stroke="#666" stroke-width="0.7"/>
<path d="M407.43 217.4V219.2" stroke="#666" stroke-width="0.7"/>
<path d="M409.6 217.4V221.8" stroke="#111" stroke-width="1.2"/>
<text x="406.6" y="229.9" font-size="7.6" class="xl">10<tspan dy="-2.6" dx="-0.2" font-size="5.8">2</tspan></text>
<path d="M423.9 217.4V219.2" stroke="#666" stroke-width="0.7"/>
<path d="M432.26 217.4V219.2" stroke="#666" stroke-width="0.7"/>
<path d="M438.2 217.4V219.2" stroke="#666" stroke-width="0.7"/>
<path d="M442.8 217.4V219.2" stroke="#666" stroke-width="0.7"/>
<path d="M446.56 217.4V219.2" stroke="#666" stroke-width="0.7"/>
<path d="M449.74 217.4V219.2" stroke="#666" stroke-width="0.7"/>
<path d="M452.5 217.4V219.2" stroke="#666" stroke-width="0.7"/>
<path d="M454.93 217.4V219.2" stroke="#666" stroke-width="0.7"/>
<path d="M457.1 217.4V221.8" stroke="#111" stroke-width="1.2"/>
<text x="454.1" y="229.9" font-size="7.6" class="xl">10<tspan dy="-2.6" dx="-0.2" font-size="5.8">3</tspan></text>
<path d="M471.4 217.4V219.2" stroke="#666" stroke-width="0.7"/>
<path d="M479.76 217.4V219.2" stroke="#666" stroke-width="0.7"/>
<path d="M485.7 217.4V219.2" stroke="#666" stroke-width="0.7"/>
<path d="M490.3 217.4V219.2" stroke="#666" stroke-width="0.7"/>
<path d="M494.06 217.4V219.2" stroke="#666" stroke-width="0.7"/>
<path d="M497.24 217.4V219.2" stroke="#666" stroke-width="0.7"/>
<path d="M500 217.4V219.2" stroke="#666" stroke-width="0.7"/>
<path d="M502.43 217.4V219.2" stroke="#666" stroke-width="0.7"/>
<path d="M504.6 217.4V221.8" stroke="#111" stroke-width="1.2"/>
<text x="501.6" y="229.9" font-size="7.6" class="xl">10<tspan dy="-2.6" dx="-0.2" font-size="5.8">4</tspan></text>
<text x="310.1" y="21.9" font-size="25" font-weight="bold">B</text>
<path d="M61.6 274H256.6V451.7" fill="none" stroke="#262626" stroke-width="1.35"/>
<path d="M61.6 274V451.7H256.6" fill="none" stroke="#111" stroke-width="1.4"/>
<path d="M58.2 451.7H61.6" stroke="#111" stroke-width="1.2"/>
<text transform="translate(56.4 451.7) rotate(-90) scale(0.92 1)" text-anchor="middle" font-size="7.2" font-weight="bold" class="yl">0</text>
<path d="M59.6 442.81H61.6" stroke="#111" stroke-width="1.2"/>
<path d="M59.6 433.93H61.6" stroke="#111" stroke-width="1.2"/>
<path d="M59.6 425.04H61.6" stroke="#111" stroke-width="1.2"/>
<path d="M59.6 416.16H61.6" stroke="#111" stroke-width="1.2"/>
<path d="M58.2 407.27H61.6" stroke="#111" stroke-width="1.2"/>
<text transform="translate(56.4 407.27) rotate(-90) scale(0.92 1)" text-anchor="middle" font-size="7.2" font-weight="bold" class="yl">10</text>
<path d="M59.6 398.39H61.6" stroke="#111" stroke-width="1.2"/>
<path d="M59.6 389.5H61.6" stroke="#111" stroke-width="1.2"/>
<path d="M59.6 380.62H61.6" stroke="#111" stroke-width="1.2"/>
<path d="M59.6 371.74H61.6" stroke="#111" stroke-width="1.2"/>
<path d="M58.2 362.85H61.6" stroke="#111" stroke-width="1.2"/>
<text transform="translate(56.4 362.85) rotate(-90) scale(0.92 1)" text-anchor="middle" font-size="7.2" font-weight="bold" class="yl">20</text>
<path d="M59.6 353.96H61.6" stroke="#111" stroke-width="1.2"/>
<path d="M59.6 345.08H61.6" stroke="#111" stroke-width="1.2"/>
<path d="M59.6 336.19H61.6" stroke="#111" stroke-width="1.2"/>
<path d="M59.6 327.31H61.6" stroke="#111" stroke-width="1.2"/>
<path d="M58.2 318.42H61.6" stroke="#111" stroke-width="1.2"/>
<text transform="translate(56.4 318.42) rotate(-90) scale(0.92 1)" text-anchor="middle" font-size="7.2" font-weight="bold" class="yl">30</text>
<path d="M59.6 309.54H61.6" stroke="#111" stroke-width="1.2"/>
<path d="M59.6 300.65H61.6" stroke="#111" stroke-width="1.2"/>
<path d="M59.6 291.77H61.6" stroke="#111" stroke-width="1.2"/>
<path d="M59.6 282.88H61.6" stroke="#111" stroke-width="1.2"/>
<path d="M58.2 274H61.6" stroke="#111" stroke-width="1.2"/>
<text transform="translate(56.4 274) rotate(-90) scale(0.92 1)" text-anchor="middle" font-size="7.2" font-weight="bold" class="yl">40</text>
<path d="M63.8 451.7V456.1" stroke="#111" stroke-width="1.2"/>
<text x="60.8" y="464.2" font-size="7.6" class="xl">10<tspan dy="-2.6" dx="-0.2" font-size="5.8">0</tspan></text>
<path d="M78.22 451.7V453.5" stroke="#666" stroke-width="0.7"/>
<path d="M86.65 451.7V453.5" stroke="#666" stroke-width="0.7"/>
<path d="M92.64 451.7V453.5" stroke="#666" stroke-width="0.7"/>
<path d="M97.28 451.7V453.5" stroke="#666" stroke-width="0.7"/>
<path d="M101.07 451.7V453.5" stroke="#666" stroke-width="0.7"/>
<path d="M104.28 451.7V453.5" stroke="#666" stroke-width="0.7"/>
<path d="M107.06 451.7V453.5" stroke="#666" stroke-width="0.7"/>
<path d="M109.51 451.7V453.5" stroke="#666" stroke-width="0.7"/>
<path d="M111.7 451.7V456.1" stroke="#111" stroke-width="1.2"/>
<text x="108.7" y="464.2" font-size="7.6" class="xl">10<tspan dy="-2.6" dx="-0.2" font-size="5.8">1</tspan></text>
<path d="M126.12 451.7V453.5" stroke="#666" stroke-width="0.7"/>
<path d="M134.55 451.7V453.5" stroke="#666" stroke-width="0.7"/>
<path d="M140.54 451.7V453.5" stroke="#666" stroke-width="0.7"/>
<path d="M145.18 451.7V453.5" stroke="#666" stroke-width="0.7"/>
<path d="M148.97 451.7V453.5" stroke="#666" stroke-width="0.7"/>
<path d="M152.18 451.7V453.5" stroke="#666" stroke-width="0.7"/>
<path d="M154.96 451.7V453.5" stroke="#666" stroke-width="0.7"/>
<path d="M157.41 451.7V453.5" stroke="#666" stroke-width="0.7"/>
<path d="M159.6 451.7V456.1" stroke="#111" stroke-width="1.2"/>
<text x="156.6" y="464.2" font-size="7.6" class="xl">10<tspan dy="-2.6" dx="-0.2" font-size="5.8">2</tspan></text>
<path d="M174.02 451.7V453.5" stroke="#666" stroke-width="0.7"/>
<path d="M182.45 451.7V453.5" stroke="#666" stroke-width="0.7"/>
<path d="M188.44 451.7V453.5" stroke="#666" stroke-width="0.7"/>
<path d="M193.08 451.7V453.5" stroke="#666" stroke-width="0.7"/>
<path d="M196.87 451.7V453.5" stroke="#666" stroke-width="0.7"/>
<path d="M200.08 451.7V453.5" stroke="#666" stroke-width="0.7"/>
<path d="M202.86 451.7V453.5" stroke="#666" stroke-width="0.7"/>
<path d="M205.31 451.7V453.5" stroke="#666" stroke-width="0.7"/>
<path d="M207.5 451.7V456.1" stroke="#111" stroke-width="1.2"/>
<text x="204.5" y="464.2" font-size="7.6" class="xl">10<tspan dy="-2.6" dx="-0.2" font-size="5.8">3</tspan></text>
<path d="M221.92 451.7V453.5" stroke="#666" stroke-width="0.7"/>
<path d="M230.35 451.7V453.5" stroke="#666" stroke-width="0.7"/>
<path d="M236.34 451.7V453.5" stroke="#666" stroke-width="0.7"/>
<path d="M240.98 451.7V453.5" stroke="#666" stroke-width="0.7"/>
<path d="M244.77 451.7V453.5" stroke="#666" stroke-width="0.7"/>
<path d="M247.98 451.7V453.5" stroke="#666" stroke-width="0.7"/>
<path d="M250.76 451.7V453.5" stroke="#666" stroke-width="0.7"/>
<path d="M253.21 451.7V453.5" stroke="#666" stroke-width="0.7"/>
<path d="M255.4 451.7V456.1" stroke="#111" stroke-width="1.2"/>
<text x="252.4" y="464.2" font-size="7.6" class="xl">10<tspan dy="-2.6" dx="-0.2" font-size="5.8">4</tspan></text>
<text x="57.5" y="266.5" font-size="25" font-weight="bold">C</text>
<path d="M312 273.6H508.3V451.3" fill="none" stroke="#262626" stroke-width="1.35"/>
<path d="M312 273.6V451.3H508.3" fill="none" stroke="#111" stroke-width="1.4"/>
<path d="M308.6 451.3H312" stroke="#111" stroke-width="1.2"/>
<text transform="translate(306.4 451.3) rotate(-90) scale(0.92 1)" text-anchor="middle" font-size="7.2" font-weight="bold" class="yl">0</text>
<path d="M310 445.38H312" stroke="#111" stroke-width="1.2"/>
<path d="M310 439.45H312" stroke="#111" stroke-width="1.2"/>
<path d="M310 433.53H312" stroke="#111" stroke-width="1.2"/>
<path d="M310 427.61H312" stroke="#111" stroke-width="1.2"/>
<path d="M308.6 421.68H312" stroke="#111" stroke-width="1.2"/>
<text transform="translate(306.4 421.68) rotate(-90) scale(0.92 1)" text-anchor="middle" font-size="7.2" font-weight="bold" class="yl">10</text>
<path d="M310 415.76H312" stroke="#111" stroke-width="1.2"/>
<path d="M310 409.84H312" stroke="#111" stroke-width="1.2"/>
<path d="M310 403.91H312" stroke="#111" stroke-width="1.2"/>
<path d="M310 397.99H312" stroke="#111" stroke-width="1.2"/>
<path d="M308.6 392.07H312" stroke="#111" stroke-width="1.2"/>
<text transform="translate(306.4 392.07) rotate(-90) scale(0.92 1)" text-anchor="middle" font-size="7.2" font-weight="bold" class="yl">20</text>
<path d="M310 386.14H312" stroke="#111" stroke-width="1.2"/>
<path d="M310 380.22H312" stroke="#111" stroke-width="1.2"/>
<path d="M310 374.3H312" stroke="#111" stroke-width="1.2"/>
<path d="M310 368.37H312" stroke="#111" stroke-width="1.2"/>
<path d="M308.6 362.45H312" stroke="#111" stroke-width="1.2"/>
<text transform="translate(306.4 362.45) rotate(-90) scale(0.92 1)" text-anchor="middle" font-size="7.2" font-weight="bold" class="yl">30</text>
<path d="M310 356.53H312" stroke="#111" stroke-width="1.2"/>
<path d="M310 350.6H312" stroke="#111" stroke-width="1.2"/>
<path d="M310 344.68H312" stroke="#111" stroke-width="1.2"/>
<path d="M310 338.76H312" stroke="#111" stroke-width="1.2"/>
<path d="M308.6 332.83H312" stroke="#111" stroke-width="1.2"/>
<text transform="translate(306.4 332.83) rotate(-90) scale(0.92 1)" text-anchor="middle" font-size="7.2" font-weight="bold" class="yl">40</text>
<path d="M310 326.91H312" stroke="#111" stroke-width="1.2"/>
<path d="M310 320.99H312" stroke="#111" stroke-width="1.2"/>
<path d="M310 315.06H312" stroke="#111" stroke-width="1.2"/>
<path d="M310 309.14H312" stroke="#111" stroke-width="1.2"/>
<path d="M308.6 303.22H312" stroke="#111" stroke-width="1.2"/>
<text transform="translate(306.4 303.22) rotate(-90) scale(0.92 1)" text-anchor="middle" font-size="7.2" font-weight="bold" class="yl">50</text>
<path d="M310 297.29H312" stroke="#111" stroke-width="1.2"/>
<path d="M310 291.37H312" stroke="#111" stroke-width="1.2"/>
<path d="M310 285.45H312" stroke="#111" stroke-width="1.2"/>
<path d="M310 279.52H312" stroke="#111" stroke-width="1.2"/>
<path d="M308.6 273.6H312" stroke="#111" stroke-width="1.2"/>
<text transform="translate(306.4 273.6) rotate(-90) scale(0.92 1)" text-anchor="middle" font-size="7.2" font-weight="bold" class="yl">60</text>
<path d="M313.4 451.3V455.7" stroke="#111" stroke-width="1.2"/>
<text x="310.4" y="463.8" font-size="7.6" class="xl">10<tspan dy="-2.6" dx="-0.2" font-size="5.8">0</tspan></text>
<path d="M327.61 451.3V453.1" stroke="#666" stroke-width="0.7"/>
<path d="M335.92 451.3V453.1" stroke="#666" stroke-width="0.7"/>
<path d="M341.82 451.3V453.1" stroke="#666" stroke-width="0.7"/>
<path d="M346.39 451.3V453.1" stroke="#666" stroke-width="0.7"/>
<path d="M350.13 451.3V453.1" stroke="#666" stroke-width="0.7"/>
<path d="M353.29 451.3V453.1" stroke="#666" stroke-width="0.7"/>
<path d="M356.03 451.3V453.1" stroke="#666" stroke-width="0.7"/>
<path d="M358.44 451.3V453.1" stroke="#666" stroke-width="0.7"/>
<path d="M360.6 451.3V455.7" stroke="#111" stroke-width="1.2"/>
<text x="357.6" y="463.8" font-size="7.6" class="xl">10<tspan dy="-2.6" dx="-0.2" font-size="5.8">1</tspan></text>
<path d="M374.81 451.3V453.1" stroke="#666" stroke-width="0.7"/>
<path d="M383.12 451.3V453.1" stroke="#666" stroke-width="0.7"/>
<path d="M389.02 451.3V453.1" stroke="#666" stroke-width="0.7"/>
<path d="M393.59 451.3V453.1" stroke="#666" stroke-width="0.7"/>
<path d="M397.33 451.3V453.1" stroke="#666" stroke-width="0.7"/>
<path d="M400.49 451.3V453.1" stroke="#666" stroke-width="0.7"/>
<path d="M403.23 451.3V453.1" stroke="#666" stroke-width="0.7"/>
<path d="M405.64 451.3V453.1" stroke="#666" stroke-width="0.7"/>
<path d="M407.8 451.3V455.7" stroke="#111" stroke-width="1.2"/>
<text x="404.8" y="463.8" font-size="7.6" class="xl">10<tspan dy="-2.6" dx="-0.2" font-size="5.8">2</tspan></text>
<path d="M422.01 451.3V453.1" stroke="#666" stroke-width="0.7"/>
<path d="M430.32 451.3V453.1" stroke="#666" stroke-width="0.7"/>
<path d="M436.22 451.3V453.1" stroke="#666" stroke-width="0.7"/>
<path d="M440.79 451.3V453.1" stroke="#666" stroke-width="0.7"/>
<path d="M444.53 451.3V453.1" stroke="#666" stroke-width="0.7"/>
<path d="M447.69 451.3V453.1" stroke="#666" stroke-width="0.7"/>
<path d="M450.43 451.3V453.1" stroke="#666" stroke-width="0.7"/>
<path d="M452.84 451.3V453.1" stroke="#666" stroke-width="0.7"/>
<path d="M455 451.3V455.7" stroke="#111" stroke-width="1.2"/>
<text x="452" y="463.8" font-size="7.6" class="xl">10<tspan dy="-2.6" dx="-0.2" font-size="5.8">3</tspan></text>
<path d="M469.21 451.3V453.1" stroke="#666" stroke-width="0.7"/>
<path d="M477.52 451.3V453.1" stroke="#666" stroke-width="0.7"/>
<path d="M483.42 451.3V453.1" stroke="#666" stroke-width="0.7"/>
<path d="M487.99 451.3V453.1" stroke="#666" stroke-width="0.7"/>
<path d="M491.73 451.3V453.1" stroke="#666" stroke-width="0.7"/>
<path d="M494.89 451.3V453.1" stroke="#666" stroke-width="0.7"/>
<path d="M497.63 451.3V453.1" stroke="#666" stroke-width="0.7"/>
<path d="M500.04 451.3V453.1" stroke="#666" stroke-width="0.7"/>
<path d="M502.2 451.3V455.7" stroke="#111" stroke-width="1.2"/>
<text x="499.2" y="463.8" font-size="7.6" class="xl">10<tspan dy="-2.6" dx="-0.2" font-size="5.8">4</tspan></text>
<text x="312.6" y="264.8" font-size="25" font-weight="bold">D</text>
<path d="M63.2 511.2H258.2V684.8" fill="none" stroke="#262626" stroke-width="1.35"/>
<path d="M63.2 511.2V684.8H258.2" fill="none" stroke="#111" stroke-width="1.4"/>
<path d="M60 684.8H63.2" stroke="#111" stroke-width="1.2"/>
<text transform="translate(58.4 684.8) rotate(-90) scale(0.92 1)" text-anchor="middle" font-size="6.5" font-weight="bold" class="yl">0</text>
<path d="M61.2 680.46H63.2" stroke="#111" stroke-width="1.2"/>
<path d="M61.2 676.12H63.2" stroke="#111" stroke-width="1.2"/>
<path d="M61.2 671.78H63.2" stroke="#111" stroke-width="1.2"/>
<path d="M61.2 667.44H63.2" stroke="#111" stroke-width="1.2"/>
<path d="M60 663.1H63.2" stroke="#111" stroke-width="1.2"/>
<text transform="translate(58.4 663.1) rotate(-90) scale(0.92 1)" text-anchor="middle" font-size="6.5" font-weight="bold" class="yl">10</text>
<path d="M61.2 658.76H63.2" stroke="#111" stroke-width="1.2"/>
<path d="M61.2 654.42H63.2" stroke="#111" stroke-width="1.2"/>
<path d="M61.2 650.08H63.2" stroke="#111" stroke-width="1.2"/>
<path d="M61.2 645.74H63.2" stroke="#111" stroke-width="1.2"/>
<path d="M60 641.4H63.2" stroke="#111" stroke-width="1.2"/>
<text transform="translate(58.4 641.4) rotate(-90) scale(0.92 1)" text-anchor="middle" font-size="6.5" font-weight="bold" class="yl">20</text>
<path d="M61.2 637.06H63.2" stroke="#111" stroke-width="1.2"/>
<path d="M61.2 632.72H63.2" stroke="#111" stroke-width="1.2"/>
<path d="M61.2 628.38H63.2" stroke="#111" stroke-width="1.2"/>
<path d="M61.2 624.04H63.2" stroke="#111" stroke-width="1.2"/>
<path d="M60 619.7H63.2" stroke="#111" stroke-width="1.2"/>
<text transform="translate(58.4 619.7) rotate(-90) scale(0.92 1)" text-anchor="middle" font-size="6.5" font-weight="bold" class="yl">30</text>
<path d="M61.2 615.36H63.2" stroke="#111" stroke-width="1.2"/>
<path d="M61.2 611.02H63.2" stroke="#111" stroke-width="1.2"/>
<path d="M61.2 606.68H63.2" stroke="#111" stroke-width="1.2"/>
<path d="M61.2 602.34H63.2" stroke="#111" stroke-width="1.2"/>
<path d="M60 598H63.2" stroke="#111" stroke-width="1.2"/>
<text transform="translate(58.4 598) rotate(-90) scale(0.92 1)" text-anchor="middle" font-size="6.5" font-weight="bold" class="yl">40</text>
<path d="M61.2 593.66H63.2" stroke="#111" stroke-width="1.2"/>
<path d="M61.2 589.32H63.2" stroke="#111" stroke-width="1.2"/>
<path d="M61.2 584.98H63.2" stroke="#111" stroke-width="1.2"/>
<path d="M61.2 580.64H63.2" stroke="#111" stroke-width="1.2"/>
<path d="M60 576.3H63.2" stroke="#111" stroke-width="1.2"/>
<text transform="translate(58.4 576.3) rotate(-90) scale(0.92 1)" text-anchor="middle" font-size="6.5" font-weight="bold" class="yl">50</text>
<path d="M61.2 571.96H63.2" stroke="#111" stroke-width="1.2"/>
<path d="M61.2 567.62H63.2" stroke="#111" stroke-width="1.2"/>
<path d="M61.2 563.28H63.2" stroke="#111" stroke-width="1.2"/>
<path d="M61.2 558.94H63.2" stroke="#111" stroke-width="1.2"/>
<path d="M60 554.6H63.2" stroke="#111" stroke-width="1.2"/>
<text transform="translate(58.4 554.6) rotate(-90) scale(0.92 1)" text-anchor="middle" font-size="6.5" font-weight="bold" class="yl">60</text>
<path d="M61.2 550.26H63.2" stroke="#111" stroke-width="1.2"/>
<path d="M61.2 545.92H63.2" stroke="#111" stroke-width="1.2"/>
<path d="M61.2 541.58H63.2" stroke="#111" stroke-width="1.2"/>
<path d="M61.2 537.24H63.2" stroke="#111" stroke-width="1.2"/>
<path d="M60 532.9H63.2" stroke="#111" stroke-width="1.2"/>
<text transform="translate(58.4 532.9) rotate(-90) scale(0.92 1)" text-anchor="middle" font-size="6.5" font-weight="bold" class="yl">70</text>
<path d="M61.2 528.56H63.2" stroke="#111" stroke-width="1.2"/>
<path d="M61.2 524.22H63.2" stroke="#111" stroke-width="1.2"/>
<path d="M61.2 519.88H63.2" stroke="#111" stroke-width="1.2"/>
<path d="M61.2 515.54H63.2" stroke="#111" stroke-width="1.2"/>
<path d="M60 511.2H63.2" stroke="#111" stroke-width="1.2"/>
<text transform="translate(58.4 511.2) rotate(-90) scale(0.92 1)" text-anchor="middle" font-size="6.5" font-weight="bold" class="yl">80</text>
<path d="M63.4 684.8V689.2" stroke="#111" stroke-width="1.2"/>
<text x="60.4" y="697.3" font-size="7.6" class="xl">10<tspan dy="-2.6" dx="-0.2" font-size="5.8">0</tspan></text>
<path d="M78.06 684.8V686.6" stroke="#666" stroke-width="0.7"/>
<path d="M86.64 684.8V686.6" stroke="#666" stroke-width="0.7"/>
<path d="M92.72 684.8V686.6" stroke="#666" stroke-width="0.7"/>
<path d="M97.44 684.8V686.6" stroke="#666" stroke-width="0.7"/>
<path d="M101.3 684.8V686.6" stroke="#666" stroke-width="0.7"/>
<path d="M104.56 684.8V686.6" stroke="#666" stroke-width="0.7"/>
<path d="M107.38 684.8V686.6" stroke="#666" stroke-width="0.7"/>
<path d="M109.87 684.8V686.6" stroke="#666" stroke-width="0.7"/>
<path d="M112.1 684.8V689.2" stroke="#111" stroke-width="1.2"/>
<text x="109.1" y="697.3" font-size="7.6" class="xl">10<tspan dy="-2.6" dx="-0.2" font-size="5.8">1</tspan></text>
<path d="M126.76 684.8V686.6" stroke="#666" stroke-width="0.7"/>
<path d="M135.34 684.8V686.6" stroke="#666" stroke-width="0.7"/>
<path d="M141.42 684.8V686.6" stroke="#666" stroke-width="0.7"/>
<path d="M146.14 684.8V686.6" stroke="#666" stroke-width="0.7"/>
<path d="M150 684.8V686.6" stroke="#666" stroke-width="0.7"/>
<path d="M153.26 684.8V686.6" stroke="#666" stroke-width="0.7"/>
<path d="M156.08 684.8V686.6" stroke="#666" stroke-width="0.7"/>
<path d="M158.57 684.8V686.6" stroke="#666" stroke-width="0.7"/>
<path d="M160.8 684.8V689.2" stroke="#111" stroke-width="1.2"/>
<text x="157.8" y="697.3" font-size="7.6" class="xl">10<tspan dy="-2.6" dx="-0.2" font-size="5.8">2</tspan></text>
<path d="M175.46 684.8V686.6" stroke="#666" stroke-width="0.7"/>
<path d="M184.04 684.8V686.6" stroke="#666" stroke-width="0.7"/>
<path d="M190.12 684.8V686.6" stroke="#666" stroke-width="0.7"/>
<path d="M194.84 684.8V686.6" stroke="#666" stroke-width="0.7"/>
<path d="M198.7 684.8V686.6" stroke="#666" stroke-width="0.7"/>
<path d="M201.96 684.8V686.6" stroke="#666" stroke-width="0.7"/>
<path d="M204.78 684.8V686.6" stroke="#666" stroke-width="0.7"/>
<path d="M207.27 684.8V686.6" stroke="#666" stroke-width="0.7"/>
<path d="M209.5 684.8V689.2" stroke="#111" stroke-width="1.2"/>
<text x="206.5" y="697.3" font-size="7.6" class="xl">10<tspan dy="-2.6" dx="-0.2" font-size="5.8">3</tspan></text>
<path d="M224.16 684.8V686.6" stroke="#666" stroke-width="0.7"/>
<path d="M232.74 684.8V686.6" stroke="#666" stroke-width="0.7"/>
<path d="M238.82 684.8V686.6" stroke="#666" stroke-width="0.7"/>
<path d="M243.54 684.8V686.6" stroke="#666" stroke-width="0.7"/>
<path d="M247.4 684.8V686.6" stroke="#666" stroke-width="0.7"/>
<path d="M250.66 684.8V686.6" stroke="#666" stroke-width="0.7"/>
<path d="M253.48 684.8V686.6" stroke="#666" stroke-width="0.7"/>
<path d="M255.97 684.8V686.6" stroke="#666" stroke-width="0.7"/>
<path d="M258.2 684.8V689.2" stroke="#111" stroke-width="1.2"/>
<text x="255.2" y="697.3" font-size="7.6" class="xl">10<tspan dy="-2.6" dx="-0.2" font-size="5.8">4</tspan></text>
<text x="66.1" y="503.6" font-size="25" font-weight="bold">E</text>
<path d="M313.8 511.2H512.6V685" fill="none" stroke="#262626" stroke-width="1.35"/>
<path d="M313.8 511.2V685H512.6" fill="none" stroke="#111" stroke-width="1.4"/>
<path d="M310.6 685H313.8" stroke="#111" stroke-width="1.2"/>
<text transform="translate(308.8 685) rotate(-90) scale(0.92 1)" text-anchor="middle" font-size="6.5" font-weight="bold" class="yl">0</text>
<path d="M311.8 678.05H313.8" stroke="#111" stroke-width="1.2"/>
<path d="M311.8 671.1H313.8" stroke="#111" stroke-width="1.2"/>
<path d="M311.8 664.14H313.8" stroke="#111" stroke-width="1.2"/>
<path d="M311.8 657.19H313.8" stroke="#111" stroke-width="1.2"/>
<path d="M310.6 650.24H313.8" stroke="#111" stroke-width="1.2"/>
<text transform="translate(308.8 650.24) rotate(-90) scale(0.92 1)" text-anchor="middle" font-size="6.5" font-weight="bold" class="yl">20</text>
<path d="M311.8 643.29H313.8" stroke="#111" stroke-width="1.2"/>
<path d="M311.8 636.34H313.8" stroke="#111" stroke-width="1.2"/>
<path d="M311.8 629.38H313.8" stroke="#111" stroke-width="1.2"/>
<path d="M311.8 622.43H313.8" stroke="#111" stroke-width="1.2"/>
<path d="M310.6 615.48H313.8" stroke="#111" stroke-width="1.2"/>
<text transform="translate(308.8 615.48) rotate(-90) scale(0.92 1)" text-anchor="middle" font-size="6.5" font-weight="bold" class="yl">40</text>
<path d="M311.8 608.53H313.8" stroke="#111" stroke-width="1.2"/>
<path d="M311.8 601.58H313.8" stroke="#111" stroke-width="1.2"/>
<path d="M311.8 594.62H313.8" stroke="#111" stroke-width="1.2"/>
<path d="M311.8 587.67H313.8" stroke="#111" stroke-width="1.2"/>
<path d="M310.6 580.72H313.8" stroke="#111" stroke-width="1.2"/>
<text transform="translate(308.8 580.72) rotate(-90) scale(0.92 1)" text-anchor="middle" font-size="6.5" font-weight="bold" class="yl">60</text>
<path d="M311.8 573.77H313.8" stroke="#111" stroke-width="1.2"/>
<path d="M311.8 566.82H313.8" stroke="#111" stroke-width="1.2"/>
<path d="M311.8 559.86H313.8" stroke="#111" stroke-width="1.2"/>
<path d="M311.8 552.91H313.8" stroke="#111" stroke-width="1.2"/>
<path d="M310.6 545.96H313.8" stroke="#111" stroke-width="1.2"/>
<text transform="translate(308.8 545.96) rotate(-90) scale(0.92 1)" text-anchor="middle" font-size="6.5" font-weight="bold" class="yl">80</text>
<path d="M311.8 539.01H313.8" stroke="#111" stroke-width="1.2"/>
<path d="M311.8 532.06H313.8" stroke="#111" stroke-width="1.2"/>
<path d="M311.8 525.1H313.8" stroke="#111" stroke-width="1.2"/>
<path d="M311.8 518.15H313.8" stroke="#111" stroke-width="1.2"/>
<path d="M310.6 511.2H313.8" stroke="#111" stroke-width="1.2"/>
<text transform="translate(308.8 511.2) rotate(-90) scale(0.92 1)" text-anchor="middle" font-size="6.5" font-weight="bold" class="yl">100</text>
<path d="M313.6 685V689.4" stroke="#111" stroke-width="1.2"/>
<text x="310.6" y="697.5" font-size="7.6" class="xl">10<tspan dy="-2.6" dx="-0.2" font-size="5.8">0</tspan></text>
<path d="M328.29 685V686.8" stroke="#666" stroke-width="0.7"/>
<path d="M336.88 685V686.8" stroke="#666" stroke-width="0.7"/>
<path d="M342.98 685V686.8" stroke="#666" stroke-width="0.7"/>
<path d="M347.71 685V686.8" stroke="#666" stroke-width="0.7"/>
<path d="M351.57 685V686.8" stroke="#666" stroke-width="0.7"/>
<path d="M354.84 685V686.8" stroke="#666" stroke-width="0.7"/>
<path d="M357.67 685V686.8" stroke="#666" stroke-width="0.7"/>
<path d="M360.17 685V686.8" stroke="#666" stroke-width="0.7"/>
<path d="M362.4 685V689.4" stroke="#111" stroke-width="1.2"/>
<text x="359.4" y="697.5" font-size="7.6" class="xl">10<tspan dy="-2.6" dx="-0.2" font-size="5.8">1</tspan></text>
<path d="M377.09 685V686.8" stroke="#666" stroke-width="0.7"/>
<path d="M385.68 685V686.8" stroke="#666" stroke-width="0.7"/>
<path d="M391.78 685V686.8" stroke="#666" stroke-width="0.7"/>
<path d="M396.51 685V686.8" stroke="#666" stroke-width="0.7"/>
<path d="M400.37 685V686.8" stroke="#666" stroke-width="0.7"/>
<path d="M403.64 685V686.8" stroke="#666" stroke-width="0.7"/>
<path d="M406.47 685V686.8" stroke="#666" stroke-width="0.7"/>
<path d="M408.97 685V686.8" stroke="#666" stroke-width="0.7"/>
<path d="M411.2 685V689.4" stroke="#111" stroke-width="1.2"/>
<text x="408.2" y="697.5" font-size="7.6" class="xl">10<tspan dy="-2.6" dx="-0.2" font-size="5.8">2</tspan></text>
<path d="M425.89 685V686.8" stroke="#666" stroke-width="0.7"/>
<path d="M434.48 685V686.8" stroke="#666" stroke-width="0.7"/>
<path d="M440.58 685V686.8" stroke="#666" stroke-width="0.7"/>
<path d="M445.31 685V686.8" stroke="#666" stroke-width="0.7"/>
<path d="M449.17 685V686.8" stroke="#666" stroke-width="0.7"/>
<path d="M452.44 685V686.8" stroke="#666" stroke-width="0.7"/>
<path d="M455.27 685V686.8" stroke="#666" stroke-width="0.7"/>
<path d="M457.77 685V686.8" stroke="#666" stroke-width="0.7"/>
<path d="M460 685V689.4" stroke="#111" stroke-width="1.2"/>
<text x="457" y="697.5" font-size="7.6" class="xl">10<tspan dy="-2.6" dx="-0.2" font-size="5.8">3</tspan></text>
<path d="M474.69 685V686.8" stroke="#666" stroke-width="0.7"/>
<path d="M483.28 685V686.8" stroke="#666" stroke-width="0.7"/>
<path d="M489.38 685V686.8" stroke="#666" stroke-width="0.7"/>
<path d="M494.11 685V686.8" stroke="#666" stroke-width="0.7"/>
<path d="M497.97 685V686.8" stroke="#666" stroke-width="0.7"/>
<path d="M501.24 685V686.8" stroke="#666" stroke-width="0.7"/>
<path d="M504.07 685V686.8" stroke="#666" stroke-width="0.7"/>
<path d="M506.57 685V686.8" stroke="#666" stroke-width="0.7"/>
<path d="M508.8 685V689.4" stroke="#111" stroke-width="1.2"/>
<text x="505.8" y="697.5" font-size="7.6" class="xl">10<tspan dy="-2.6" dx="-0.2" font-size="5.8">4</tspan></text>
<text x="319.3" y="502.5" font-size="25" font-weight="bold">F</text>
<path d="M34.6 44V687.5" stroke="#000" stroke-width="2.1"/>
<path d="M33.8 32L27.4 44.8H40.2Z" fill="#000"/>
<text transform="translate(21.4 401) rotate(-90)" font-size="23.3" font-weight="bold">Events</text>
<text x="67" y="55.6" font-size="12.9" font-weight="bold">Control</text>
<path d="M88.9 60.1L92.2 92.1L121.8 135.8M112.1 130.3L121.8 135.8L120.7 124.7" fill="none" stroke="#111" stroke-width="1.2"/>
<text x="101" y="714.6" font-size="15" font-weight="bold">&#945;<tspan font-size="9.5" dy="2">IIb</tspan><tspan dy="-2">&#946;</tspan><tspan font-size="9.5" dy="2">3</tspan><tspan dy="-2" dx="1" letter-spacing="0.55"> (FL2, au)</tspan></text>
<text x="341" y="714.6" font-size="15" font-weight="bold" letter-spacing="0.4">CD42b (FL2, au)</text>
</svg>
</body></html>
